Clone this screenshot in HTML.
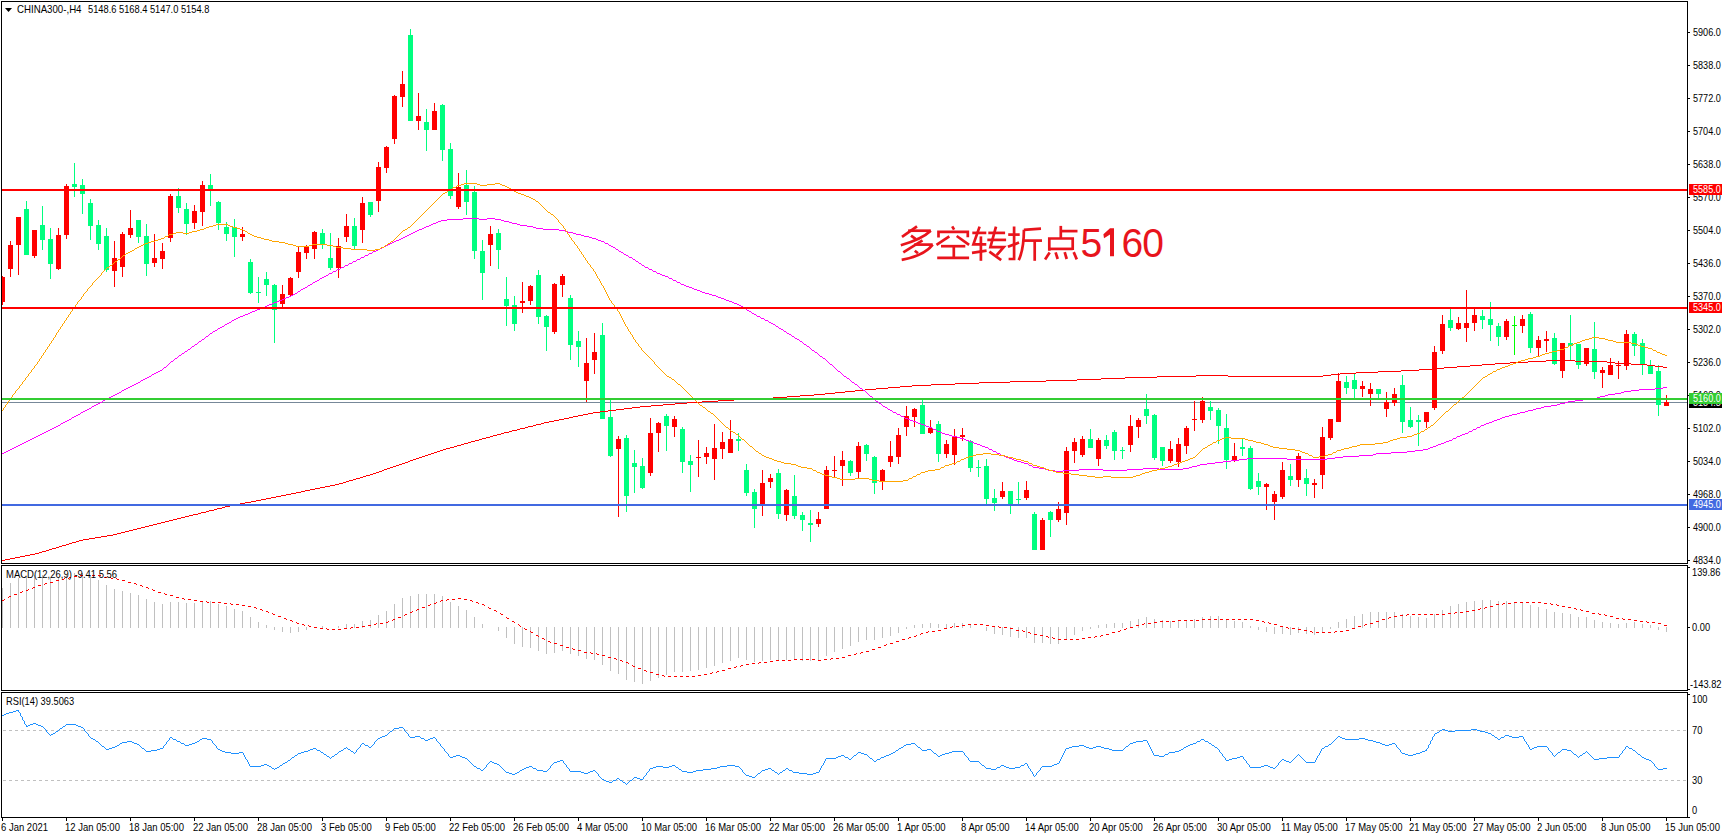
<!DOCTYPE html><html><head><meta charset="utf-8"><style>html,body{margin:0;padding:0;background:#fff;width:1722px;height:837px;overflow:hidden}svg{display:block}text{font-family:"Liberation Sans",sans-serif}</style></head><body>
<svg width="1722" height="837" viewBox="0 0 1722 837">
<rect x="0" y="0" width="1722" height="837" fill="#fff"/>
<g shape-rendering="crispEdges">
<rect x="1" y="1" width="1687" height="1" fill="#000"/>
<rect x="1" y="563" width="1687" height="1" fill="#000"/>
<rect x="1" y="1" width="1" height="563" fill="#000"/>
<rect x="1687" y="1" width="1" height="563" fill="#000"/>
<rect x="1" y="565" width="1687" height="1" fill="#000"/>
<rect x="1" y="690" width="1687" height="1" fill="#000"/>
<rect x="1" y="565" width="1" height="126" fill="#000"/>
<rect x="1687" y="565" width="1" height="126" fill="#000"/>
<rect x="1" y="692" width="1687" height="1" fill="#000"/>
<rect x="1" y="817" width="1687" height="1" fill="#000"/>
<rect x="1" y="692" width="1" height="126" fill="#000"/>
<rect x="1687" y="692" width="1" height="126" fill="#000"/>
<rect x="1688" y="32" width="2" height="1" fill="#000"/>
<rect x="1688" y="65" width="2" height="1" fill="#000"/>
<rect x="1688" y="98" width="2" height="1" fill="#000"/>
<rect x="1688" y="131" width="2" height="1" fill="#000"/>
<rect x="1688" y="164" width="2" height="1" fill="#000"/>
<rect x="1688" y="197" width="2" height="1" fill="#000"/>
<rect x="1688" y="230" width="2" height="1" fill="#000"/>
<rect x="1688" y="263" width="2" height="1" fill="#000"/>
<rect x="1688" y="296" width="2" height="1" fill="#000"/>
<rect x="1688" y="329" width="2" height="1" fill="#000"/>
<rect x="1688" y="362" width="2" height="1" fill="#000"/>
<rect x="1688" y="395" width="2" height="1" fill="#000"/>
<rect x="1688" y="428" width="2" height="1" fill="#000"/>
<rect x="1688" y="461" width="2" height="1" fill="#000"/>
<rect x="1688" y="494" width="2" height="1" fill="#000"/>
<rect x="1688" y="527" width="2" height="1" fill="#000"/>
<rect x="1688" y="560" width="2" height="1" fill="#000"/>
<rect x="1688" y="567" width="2" height="1" fill="#000"/>
<rect x="1688" y="627" width="2" height="1" fill="#000"/>
<rect x="1688" y="689" width="2" height="1" fill="#000"/>
<rect x="1688" y="694" width="2" height="1" fill="#000"/>
<rect x="1688" y="817" width="2" height="1" fill="#000"/>
<rect x="2" y="818" width="1" height="3" fill="#000"/>
<rect x="66" y="818" width="1" height="3" fill="#000"/>
<rect x="130" y="818" width="1" height="3" fill="#000"/>
<rect x="194" y="818" width="1" height="3" fill="#000"/>
<rect x="258" y="818" width="1" height="3" fill="#000"/>
<rect x="322" y="818" width="1" height="3" fill="#000"/>
<rect x="386" y="818" width="1" height="3" fill="#000"/>
<rect x="450" y="818" width="1" height="3" fill="#000"/>
<rect x="514" y="818" width="1" height="3" fill="#000"/>
<rect x="578" y="818" width="1" height="3" fill="#000"/>
<rect x="642" y="818" width="1" height="3" fill="#000"/>
<rect x="706" y="818" width="1" height="3" fill="#000"/>
<rect x="770" y="818" width="1" height="3" fill="#000"/>
<rect x="834" y="818" width="1" height="3" fill="#000"/>
<rect x="898" y="818" width="1" height="3" fill="#000"/>
<rect x="962" y="818" width="1" height="3" fill="#000"/>
<rect x="1026" y="818" width="1" height="3" fill="#000"/>
<rect x="1090" y="818" width="1" height="3" fill="#000"/>
<rect x="1154" y="818" width="1" height="3" fill="#000"/>
<rect x="1218" y="818" width="1" height="3" fill="#000"/>
<rect x="1282" y="818" width="1" height="3" fill="#000"/>
<rect x="1346" y="818" width="1" height="3" fill="#000"/>
<rect x="1410" y="818" width="1" height="3" fill="#000"/>
<rect x="1474" y="818" width="1" height="3" fill="#000"/>
<rect x="1538" y="818" width="1" height="3" fill="#000"/>
<rect x="1602" y="818" width="1" height="3" fill="#000"/>
<rect x="1666" y="818" width="1" height="3" fill="#000"/>
</g>
<g shape-rendering="crispEdges">
<rect x="2" y="402" width="1685" height="1" fill="#778899"/>
<rect x="2" y="276" width="1" height="29" fill="#ff0000"/>
<rect x="2" y="277" width="3" height="25" fill="#ff0000"/>
<rect x="10" y="241" width="1" height="36" fill="#ff0000"/>
<rect x="8" y="245" width="5" height="24" fill="#ff0000"/>
<rect x="18" y="217" width="1" height="58" fill="#ff0000"/>
<rect x="16" y="217" width="5" height="28" fill="#ff0000"/>
<rect x="26" y="201" width="1" height="54" fill="#00ff7f"/>
<rect x="24" y="209" width="5" height="46" fill="#00ff7f"/>
<rect x="34" y="230" width="1" height="28" fill="#ff0000"/>
<rect x="32" y="230" width="5" height="26" fill="#ff0000"/>
<rect x="42" y="206" width="1" height="44" fill="#00ff7f"/>
<rect x="40" y="225" width="5" height="15" fill="#00ff7f"/>
<rect x="50" y="228" width="1" height="51" fill="#00ff7f"/>
<rect x="48" y="239" width="5" height="25" fill="#00ff7f"/>
<rect x="58" y="228" width="1" height="42" fill="#ff0000"/>
<rect x="56" y="235" width="5" height="34" fill="#ff0000"/>
<rect x="66" y="184" width="1" height="55" fill="#ff0000"/>
<rect x="64" y="186" width="5" height="49" fill="#ff0000"/>
<rect x="74" y="163" width="1" height="34" fill="#00ff7f"/>
<rect x="72" y="184" width="5" height="3" fill="#00ff7f"/>
<rect x="82" y="179" width="1" height="35" fill="#00ff7f"/>
<rect x="80" y="185" width="5" height="9" fill="#00ff7f"/>
<rect x="90" y="199" width="1" height="41" fill="#00ff7f"/>
<rect x="88" y="203" width="5" height="23" fill="#00ff7f"/>
<rect x="98" y="220" width="1" height="30" fill="#00ff7f"/>
<rect x="96" y="225" width="5" height="19" fill="#00ff7f"/>
<rect x="106" y="228" width="1" height="44" fill="#00ff7f"/>
<rect x="104" y="236" width="5" height="34" fill="#00ff7f"/>
<rect x="114" y="241" width="1" height="46" fill="#ff0000"/>
<rect x="112" y="258" width="5" height="13" fill="#ff0000"/>
<rect x="122" y="232" width="1" height="45" fill="#ff0000"/>
<rect x="120" y="234" width="5" height="33" fill="#ff0000"/>
<rect x="130" y="210" width="1" height="28" fill="#ff0000"/>
<rect x="128" y="228" width="5" height="7" fill="#ff0000"/>
<rect x="138" y="220" width="1" height="23" fill="#00ff7f"/>
<rect x="136" y="220" width="5" height="17" fill="#00ff7f"/>
<rect x="146" y="224" width="1" height="52" fill="#00ff7f"/>
<rect x="144" y="236" width="5" height="28" fill="#00ff7f"/>
<rect x="154" y="234" width="1" height="33" fill="#ff0000"/>
<rect x="152" y="258" width="5" height="5" fill="#ff0000"/>
<rect x="162" y="243" width="1" height="26" fill="#ff0000"/>
<rect x="160" y="251" width="5" height="8" fill="#ff0000"/>
<rect x="170" y="194" width="1" height="48" fill="#ff0000"/>
<rect x="168" y="196" width="5" height="42" fill="#ff0000"/>
<rect x="178" y="188" width="1" height="25" fill="#00ff7f"/>
<rect x="176" y="196" width="5" height="12" fill="#00ff7f"/>
<rect x="186" y="203" width="1" height="32" fill="#00ff7f"/>
<rect x="184" y="209" width="5" height="15" fill="#00ff7f"/>
<rect x="194" y="205" width="1" height="24" fill="#ff0000"/>
<rect x="192" y="211" width="5" height="12" fill="#ff0000"/>
<rect x="202" y="181" width="1" height="45" fill="#ff0000"/>
<rect x="200" y="185" width="5" height="27" fill="#ff0000"/>
<rect x="210" y="174" width="1" height="32" fill="#00ff7f"/>
<rect x="208" y="185" width="5" height="4" fill="#00ff7f"/>
<rect x="218" y="201" width="1" height="29" fill="#00ff7f"/>
<rect x="216" y="202" width="5" height="21" fill="#00ff7f"/>
<rect x="226" y="222" width="1" height="19" fill="#00ff7f"/>
<rect x="224" y="227" width="5" height="7" fill="#00ff7f"/>
<rect x="234" y="219" width="1" height="38" fill="#00ff7f"/>
<rect x="232" y="227" width="5" height="10" fill="#00ff7f"/>
<rect x="242" y="227" width="1" height="14" fill="#ff0000"/>
<rect x="240" y="234" width="5" height="3" fill="#ff0000"/>
<rect x="250" y="259" width="1" height="35" fill="#00ff7f"/>
<rect x="248" y="262" width="5" height="31" fill="#00ff7f"/>
<rect x="258" y="277" width="1" height="26" fill="#00ff7f"/>
<rect x="256" y="292" width="5" height="1" fill="#00ff7f"/>
<rect x="266" y="272" width="1" height="24" fill="#00ff7f"/>
<rect x="264" y="279" width="5" height="6" fill="#00ff7f"/>
<rect x="274" y="284" width="1" height="59" fill="#00ff7f"/>
<rect x="272" y="285" width="5" height="25" fill="#00ff7f"/>
<rect x="282" y="285" width="1" height="22" fill="#ff0000"/>
<rect x="280" y="294" width="5" height="10" fill="#ff0000"/>
<rect x="290" y="277" width="1" height="19" fill="#ff0000"/>
<rect x="288" y="278" width="5" height="17" fill="#ff0000"/>
<rect x="298" y="247" width="1" height="31" fill="#ff0000"/>
<rect x="296" y="252" width="5" height="20" fill="#ff0000"/>
<rect x="306" y="245" width="1" height="14" fill="#ff0000"/>
<rect x="304" y="246" width="5" height="7" fill="#ff0000"/>
<rect x="314" y="231" width="1" height="28" fill="#ff0000"/>
<rect x="312" y="232" width="5" height="17" fill="#ff0000"/>
<rect x="322" y="229" width="1" height="20" fill="#00ff7f"/>
<rect x="320" y="233" width="5" height="12" fill="#00ff7f"/>
<rect x="330" y="233" width="1" height="37" fill="#00ff7f"/>
<rect x="328" y="258" width="5" height="10" fill="#00ff7f"/>
<rect x="338" y="238" width="1" height="40" fill="#ff0000"/>
<rect x="336" y="246" width="5" height="22" fill="#ff0000"/>
<rect x="346" y="214" width="1" height="28" fill="#ff0000"/>
<rect x="344" y="226" width="5" height="11" fill="#ff0000"/>
<rect x="354" y="218" width="1" height="31" fill="#00ff7f"/>
<rect x="352" y="226" width="5" height="20" fill="#00ff7f"/>
<rect x="362" y="197" width="1" height="46" fill="#ff0000"/>
<rect x="360" y="203" width="5" height="27" fill="#ff0000"/>
<rect x="370" y="202" width="1" height="15" fill="#00ff7f"/>
<rect x="368" y="202" width="5" height="13" fill="#00ff7f"/>
<rect x="378" y="162" width="1" height="50" fill="#ff0000"/>
<rect x="376" y="167" width="5" height="34" fill="#ff0000"/>
<rect x="386" y="146" width="1" height="27" fill="#ff0000"/>
<rect x="384" y="147" width="5" height="21" fill="#ff0000"/>
<rect x="394" y="95" width="1" height="49" fill="#ff0000"/>
<rect x="392" y="96" width="5" height="43" fill="#ff0000"/>
<rect x="402" y="71" width="1" height="36" fill="#ff0000"/>
<rect x="400" y="84" width="5" height="13" fill="#ff0000"/>
<rect x="410" y="29" width="1" height="92" fill="#00ff7f"/>
<rect x="408" y="35" width="5" height="86" fill="#00ff7f"/>
<rect x="418" y="93" width="1" height="37" fill="#ff0000"/>
<rect x="416" y="116" width="5" height="5" fill="#ff0000"/>
<rect x="426" y="109" width="1" height="42" fill="#00ff7f"/>
<rect x="424" y="122" width="5" height="8" fill="#00ff7f"/>
<rect x="434" y="103" width="1" height="27" fill="#ff0000"/>
<rect x="432" y="111" width="5" height="19" fill="#ff0000"/>
<rect x="442" y="104" width="1" height="57" fill="#00ff7f"/>
<rect x="440" y="105" width="5" height="45" fill="#00ff7f"/>
<rect x="450" y="143" width="1" height="56" fill="#00ff7f"/>
<rect x="448" y="149" width="5" height="47" fill="#00ff7f"/>
<rect x="458" y="173" width="1" height="36" fill="#ff0000"/>
<rect x="456" y="187" width="5" height="20" fill="#ff0000"/>
<rect x="466" y="170" width="1" height="45" fill="#00ff7f"/>
<rect x="464" y="185" width="5" height="17" fill="#00ff7f"/>
<rect x="474" y="186" width="1" height="73" fill="#00ff7f"/>
<rect x="472" y="192" width="5" height="59" fill="#00ff7f"/>
<rect x="482" y="240" width="1" height="60" fill="#00ff7f"/>
<rect x="480" y="251" width="5" height="22" fill="#00ff7f"/>
<rect x="490" y="226" width="1" height="40" fill="#ff0000"/>
<rect x="488" y="234" width="5" height="11" fill="#ff0000"/>
<rect x="498" y="229" width="1" height="40" fill="#00ff7f"/>
<rect x="496" y="233" width="5" height="17" fill="#00ff7f"/>
<rect x="506" y="277" width="1" height="49" fill="#00ff7f"/>
<rect x="504" y="299" width="5" height="7" fill="#00ff7f"/>
<rect x="514" y="296" width="1" height="35" fill="#00ff7f"/>
<rect x="512" y="305" width="5" height="19" fill="#00ff7f"/>
<rect x="522" y="282" width="1" height="31" fill="#ff0000"/>
<rect x="520" y="301" width="5" height="2" fill="#ff0000"/>
<rect x="530" y="285" width="1" height="20" fill="#ff0000"/>
<rect x="528" y="286" width="5" height="15" fill="#ff0000"/>
<rect x="538" y="270" width="1" height="54" fill="#00ff7f"/>
<rect x="536" y="275" width="5" height="42" fill="#00ff7f"/>
<rect x="546" y="315" width="1" height="36" fill="#00ff7f"/>
<rect x="544" y="316" width="5" height="11" fill="#00ff7f"/>
<rect x="554" y="283" width="1" height="51" fill="#ff0000"/>
<rect x="552" y="284" width="5" height="48" fill="#ff0000"/>
<rect x="562" y="274" width="1" height="23" fill="#ff0000"/>
<rect x="560" y="276" width="5" height="9" fill="#ff0000"/>
<rect x="570" y="295" width="1" height="65" fill="#00ff7f"/>
<rect x="568" y="298" width="5" height="47" fill="#00ff7f"/>
<rect x="578" y="331" width="1" height="36" fill="#00ff7f"/>
<rect x="576" y="341" width="5" height="6" fill="#00ff7f"/>
<rect x="586" y="338" width="1" height="64" fill="#ff0000"/>
<rect x="584" y="363" width="5" height="18" fill="#ff0000"/>
<rect x="594" y="333" width="1" height="41" fill="#ff0000"/>
<rect x="592" y="352" width="5" height="8" fill="#ff0000"/>
<rect x="602" y="323" width="1" height="96" fill="#00ff7f"/>
<rect x="600" y="335" width="5" height="84" fill="#00ff7f"/>
<rect x="610" y="399" width="1" height="58" fill="#00ff7f"/>
<rect x="608" y="417" width="5" height="39" fill="#00ff7f"/>
<rect x="618" y="436" width="1" height="81" fill="#ff0000"/>
<rect x="616" y="439" width="5" height="10" fill="#ff0000"/>
<rect x="626" y="435" width="1" height="77" fill="#00ff7f"/>
<rect x="624" y="438" width="5" height="58" fill="#00ff7f"/>
<rect x="634" y="450" width="1" height="43" fill="#00ff7f"/>
<rect x="632" y="463" width="5" height="4" fill="#00ff7f"/>
<rect x="642" y="458" width="1" height="31" fill="#00ff7f"/>
<rect x="640" y="466" width="5" height="22" fill="#00ff7f"/>
<rect x="650" y="418" width="1" height="58" fill="#ff0000"/>
<rect x="648" y="433" width="5" height="40" fill="#ff0000"/>
<rect x="658" y="422" width="1" height="30" fill="#ff0000"/>
<rect x="656" y="423" width="5" height="10" fill="#ff0000"/>
<rect x="666" y="414" width="1" height="37" fill="#00ff7f"/>
<rect x="664" y="416" width="5" height="10" fill="#00ff7f"/>
<rect x="674" y="416" width="1" height="21" fill="#ff0000"/>
<rect x="672" y="419" width="5" height="8" fill="#ff0000"/>
<rect x="682" y="427" width="1" height="46" fill="#00ff7f"/>
<rect x="680" y="429" width="5" height="33" fill="#00ff7f"/>
<rect x="690" y="455" width="1" height="37" fill="#00ff7f"/>
<rect x="688" y="461" width="5" height="4" fill="#00ff7f"/>
<rect x="698" y="440" width="1" height="37" fill="#ff0000"/>
<rect x="696" y="457" width="5" height="1" fill="#ff0000"/>
<rect x="706" y="447" width="1" height="17" fill="#ff0000"/>
<rect x="704" y="453" width="5" height="4" fill="#ff0000"/>
<rect x="714" y="424" width="1" height="56" fill="#ff0000"/>
<rect x="712" y="448" width="5" height="11" fill="#ff0000"/>
<rect x="722" y="432" width="1" height="27" fill="#ff0000"/>
<rect x="720" y="442" width="5" height="7" fill="#ff0000"/>
<rect x="730" y="420" width="1" height="33" fill="#ff0000"/>
<rect x="728" y="439" width="5" height="14" fill="#ff0000"/>
<rect x="738" y="433" width="1" height="18" fill="#00ff7f"/>
<rect x="736" y="439" width="5" height="2" fill="#00ff7f"/>
<rect x="746" y="464" width="1" height="32" fill="#00ff7f"/>
<rect x="744" y="470" width="5" height="23" fill="#00ff7f"/>
<rect x="754" y="489" width="1" height="39" fill="#00ff7f"/>
<rect x="752" y="492" width="5" height="17" fill="#00ff7f"/>
<rect x="762" y="470" width="1" height="46" fill="#ff0000"/>
<rect x="760" y="483" width="5" height="21" fill="#ff0000"/>
<rect x="770" y="474" width="1" height="14" fill="#ff0000"/>
<rect x="768" y="478" width="5" height="4" fill="#ff0000"/>
<rect x="778" y="469" width="1" height="50" fill="#00ff7f"/>
<rect x="776" y="473" width="5" height="41" fill="#00ff7f"/>
<rect x="786" y="489" width="1" height="32" fill="#ff0000"/>
<rect x="784" y="490" width="5" height="25" fill="#ff0000"/>
<rect x="794" y="475" width="1" height="44" fill="#00ff7f"/>
<rect x="792" y="496" width="5" height="20" fill="#00ff7f"/>
<rect x="802" y="512" width="1" height="19" fill="#00ff7f"/>
<rect x="800" y="515" width="5" height="5" fill="#00ff7f"/>
<rect x="810" y="510" width="1" height="32" fill="#00ff7f"/>
<rect x="808" y="523" width="5" height="2" fill="#00ff7f"/>
<rect x="818" y="512" width="1" height="15" fill="#ff0000"/>
<rect x="816" y="519" width="5" height="5" fill="#ff0000"/>
<rect x="826" y="466" width="1" height="43" fill="#ff0000"/>
<rect x="824" y="470" width="5" height="39" fill="#ff0000"/>
<rect x="834" y="456" width="1" height="22" fill="#ff0000"/>
<rect x="832" y="470" width="5" height="1" fill="#ff0000"/>
<rect x="842" y="451" width="1" height="35" fill="#ff0000"/>
<rect x="840" y="460" width="5" height="6" fill="#ff0000"/>
<rect x="850" y="460" width="1" height="16" fill="#00ff7f"/>
<rect x="848" y="461" width="5" height="12" fill="#00ff7f"/>
<rect x="858" y="442" width="1" height="36" fill="#ff0000"/>
<rect x="856" y="446" width="5" height="26" fill="#ff0000"/>
<rect x="866" y="444" width="1" height="17" fill="#00ff7f"/>
<rect x="864" y="445" width="5" height="9" fill="#00ff7f"/>
<rect x="874" y="456" width="1" height="38" fill="#00ff7f"/>
<rect x="872" y="457" width="5" height="26" fill="#00ff7f"/>
<rect x="882" y="469" width="1" height="21" fill="#ff0000"/>
<rect x="880" y="470" width="5" height="11" fill="#ff0000"/>
<rect x="890" y="441" width="1" height="26" fill="#ff0000"/>
<rect x="888" y="456" width="5" height="6" fill="#ff0000"/>
<rect x="898" y="428" width="1" height="36" fill="#ff0000"/>
<rect x="896" y="435" width="5" height="22" fill="#ff0000"/>
<rect x="906" y="406" width="1" height="30" fill="#ff0000"/>
<rect x="904" y="416" width="5" height="11" fill="#ff0000"/>
<rect x="914" y="408" width="1" height="19" fill="#ff0000"/>
<rect x="912" y="409" width="5" height="8" fill="#ff0000"/>
<rect x="922" y="400" width="1" height="34" fill="#00ff7f"/>
<rect x="920" y="405" width="5" height="29" fill="#00ff7f"/>
<rect x="930" y="420" width="1" height="14" fill="#ff0000"/>
<rect x="928" y="428" width="5" height="5" fill="#ff0000"/>
<rect x="938" y="421" width="1" height="41" fill="#00ff7f"/>
<rect x="936" y="424" width="5" height="30" fill="#00ff7f"/>
<rect x="946" y="440" width="1" height="18" fill="#ff0000"/>
<rect x="944" y="444" width="5" height="10" fill="#ff0000"/>
<rect x="954" y="429" width="1" height="36" fill="#ff0000"/>
<rect x="952" y="436" width="5" height="19" fill="#ff0000"/>
<rect x="962" y="428" width="1" height="13" fill="#ff0000"/>
<rect x="960" y="435" width="5" height="2" fill="#ff0000"/>
<rect x="970" y="440" width="1" height="32" fill="#00ff7f"/>
<rect x="968" y="441" width="5" height="27" fill="#00ff7f"/>
<rect x="978" y="460" width="1" height="17" fill="#00ff7f"/>
<rect x="976" y="467" width="5" height="1" fill="#00ff7f"/>
<rect x="986" y="459" width="1" height="45" fill="#00ff7f"/>
<rect x="984" y="466" width="5" height="33" fill="#00ff7f"/>
<rect x="994" y="489" width="1" height="22" fill="#00ff7f"/>
<rect x="992" y="498" width="5" height="5" fill="#00ff7f"/>
<rect x="1002" y="482" width="1" height="17" fill="#ff0000"/>
<rect x="1000" y="491" width="5" height="6" fill="#ff0000"/>
<rect x="1010" y="491" width="1" height="23" fill="#00ff7f"/>
<rect x="1008" y="491" width="5" height="13" fill="#00ff7f"/>
<rect x="1018" y="482" width="1" height="22" fill="#00ff7f"/>
<rect x="1016" y="499" width="5" height="1" fill="#00ff7f"/>
<rect x="1026" y="481" width="1" height="19" fill="#ff0000"/>
<rect x="1024" y="490" width="5" height="8" fill="#ff0000"/>
<rect x="1034" y="512" width="1" height="38" fill="#00ff7f"/>
<rect x="1032" y="514" width="5" height="36" fill="#00ff7f"/>
<rect x="1042" y="518" width="1" height="32" fill="#ff0000"/>
<rect x="1040" y="520" width="5" height="30" fill="#ff0000"/>
<rect x="1050" y="511" width="1" height="26" fill="#00ff7f"/>
<rect x="1048" y="512" width="5" height="8" fill="#00ff7f"/>
<rect x="1058" y="502" width="1" height="20" fill="#ff0000"/>
<rect x="1056" y="509" width="5" height="11" fill="#ff0000"/>
<rect x="1066" y="447" width="1" height="78" fill="#ff0000"/>
<rect x="1064" y="451" width="5" height="62" fill="#ff0000"/>
<rect x="1074" y="438" width="1" height="25" fill="#ff0000"/>
<rect x="1072" y="442" width="5" height="9" fill="#ff0000"/>
<rect x="1082" y="436" width="1" height="21" fill="#ff0000"/>
<rect x="1080" y="439" width="5" height="16" fill="#ff0000"/>
<rect x="1090" y="429" width="1" height="19" fill="#00ff7f"/>
<rect x="1088" y="439" width="5" height="9" fill="#00ff7f"/>
<rect x="1098" y="438" width="1" height="28" fill="#ff0000"/>
<rect x="1096" y="440" width="5" height="19" fill="#ff0000"/>
<rect x="1106" y="435" width="1" height="14" fill="#00ff7f"/>
<rect x="1104" y="440" width="5" height="6" fill="#00ff7f"/>
<rect x="1114" y="430" width="1" height="30" fill="#00ff7f"/>
<rect x="1112" y="432" width="5" height="19" fill="#00ff7f"/>
<rect x="1122" y="447" width="1" height="12" fill="#00ff7f"/>
<rect x="1120" y="450" width="5" height="1" fill="#00ff7f"/>
<rect x="1130" y="415" width="1" height="37" fill="#ff0000"/>
<rect x="1128" y="426" width="5" height="19" fill="#ff0000"/>
<rect x="1138" y="418" width="1" height="20" fill="#ff0000"/>
<rect x="1136" y="420" width="5" height="7" fill="#ff0000"/>
<rect x="1146" y="394" width="1" height="30" fill="#00ff7f"/>
<rect x="1144" y="409" width="5" height="7" fill="#00ff7f"/>
<rect x="1154" y="414" width="1" height="46" fill="#00ff7f"/>
<rect x="1152" y="415" width="5" height="43" fill="#00ff7f"/>
<rect x="1162" y="447" width="1" height="19" fill="#00ff7f"/>
<rect x="1160" y="447" width="5" height="14" fill="#00ff7f"/>
<rect x="1170" y="441" width="1" height="22" fill="#ff0000"/>
<rect x="1168" y="449" width="5" height="12" fill="#ff0000"/>
<rect x="1178" y="438" width="1" height="29" fill="#ff0000"/>
<rect x="1176" y="444" width="5" height="18" fill="#ff0000"/>
<rect x="1186" y="426" width="1" height="28" fill="#ff0000"/>
<rect x="1184" y="428" width="5" height="18" fill="#ff0000"/>
<rect x="1194" y="401" width="1" height="30" fill="#ff0000"/>
<rect x="1192" y="419" width="5" height="1" fill="#ff0000"/>
<rect x="1202" y="397" width="1" height="26" fill="#ff0000"/>
<rect x="1200" y="401" width="5" height="19" fill="#ff0000"/>
<rect x="1210" y="401" width="1" height="19" fill="#00ff7f"/>
<rect x="1208" y="407" width="5" height="4" fill="#00ff7f"/>
<rect x="1218" y="408" width="1" height="36" fill="#00ff7f"/>
<rect x="1216" y="410" width="5" height="16" fill="#00ff7f"/>
<rect x="1226" y="414" width="1" height="55" fill="#00ff7f"/>
<rect x="1224" y="428" width="5" height="32" fill="#00ff7f"/>
<rect x="1234" y="443" width="1" height="19" fill="#ff0000"/>
<rect x="1232" y="456" width="5" height="4" fill="#ff0000"/>
<rect x="1242" y="438" width="1" height="18" fill="#00ff7f"/>
<rect x="1240" y="447" width="5" height="2" fill="#00ff7f"/>
<rect x="1250" y="446" width="1" height="44" fill="#00ff7f"/>
<rect x="1248" y="448" width="5" height="41" fill="#00ff7f"/>
<rect x="1258" y="473" width="1" height="22" fill="#00ff7f"/>
<rect x="1256" y="481" width="5" height="6" fill="#00ff7f"/>
<rect x="1266" y="483" width="1" height="27" fill="#ff0000"/>
<rect x="1264" y="484" width="5" height="3" fill="#ff0000"/>
<rect x="1274" y="491" width="1" height="29" fill="#ff0000"/>
<rect x="1272" y="494" width="5" height="8" fill="#ff0000"/>
<rect x="1282" y="462" width="1" height="37" fill="#ff0000"/>
<rect x="1280" y="470" width="5" height="27" fill="#ff0000"/>
<rect x="1290" y="464" width="1" height="22" fill="#00ff7f"/>
<rect x="1288" y="476" width="5" height="4" fill="#00ff7f"/>
<rect x="1298" y="453" width="1" height="34" fill="#ff0000"/>
<rect x="1296" y="456" width="5" height="24" fill="#ff0000"/>
<rect x="1306" y="469" width="1" height="27" fill="#00ff7f"/>
<rect x="1304" y="478" width="5" height="6" fill="#00ff7f"/>
<rect x="1314" y="479" width="1" height="19" fill="#ff0000"/>
<rect x="1312" y="483" width="5" height="2" fill="#ff0000"/>
<rect x="1322" y="427" width="1" height="62" fill="#ff0000"/>
<rect x="1320" y="437" width="5" height="38" fill="#ff0000"/>
<rect x="1330" y="419" width="1" height="21" fill="#ff0000"/>
<rect x="1328" y="419" width="5" height="19" fill="#ff0000"/>
<rect x="1338" y="373" width="1" height="49" fill="#ff0000"/>
<rect x="1336" y="381" width="5" height="41" fill="#ff0000"/>
<rect x="1346" y="376" width="1" height="18" fill="#00ff7f"/>
<rect x="1344" y="382" width="5" height="6" fill="#00ff7f"/>
<rect x="1354" y="374" width="1" height="24" fill="#00ff7f"/>
<rect x="1352" y="380" width="5" height="9" fill="#00ff7f"/>
<rect x="1362" y="381" width="1" height="16" fill="#ff0000"/>
<rect x="1360" y="386" width="5" height="3" fill="#ff0000"/>
<rect x="1370" y="383" width="1" height="23" fill="#ff0000"/>
<rect x="1368" y="389" width="5" height="5" fill="#ff0000"/>
<rect x="1378" y="389" width="1" height="9" fill="#00ff7f"/>
<rect x="1376" y="389" width="5" height="5" fill="#00ff7f"/>
<rect x="1386" y="392" width="1" height="25" fill="#ff0000"/>
<rect x="1384" y="402" width="5" height="7" fill="#ff0000"/>
<rect x="1394" y="388" width="1" height="18" fill="#ff0000"/>
<rect x="1392" y="394" width="5" height="9" fill="#ff0000"/>
<rect x="1402" y="375" width="1" height="58" fill="#00ff7f"/>
<rect x="1400" y="385" width="5" height="37" fill="#00ff7f"/>
<rect x="1410" y="407" width="1" height="21" fill="#00ff7f"/>
<rect x="1408" y="420" width="5" height="7" fill="#00ff7f"/>
<rect x="1418" y="415" width="1" height="31" fill="#00ff7f"/>
<rect x="1416" y="420" width="5" height="2" fill="#00ff7f"/>
<rect x="1426" y="412" width="1" height="16" fill="#ff0000"/>
<rect x="1424" y="412" width="5" height="10" fill="#ff0000"/>
<rect x="1434" y="346" width="1" height="64" fill="#ff0000"/>
<rect x="1432" y="352" width="5" height="56" fill="#ff0000"/>
<rect x="1442" y="315" width="1" height="39" fill="#ff0000"/>
<rect x="1440" y="324" width="5" height="27" fill="#ff0000"/>
<rect x="1450" y="309" width="1" height="22" fill="#00ff7f"/>
<rect x="1448" y="320" width="5" height="8" fill="#00ff7f"/>
<rect x="1458" y="317" width="1" height="13" fill="#ff0000"/>
<rect x="1456" y="323" width="5" height="6" fill="#ff0000"/>
<rect x="1466" y="290" width="1" height="52" fill="#ff0000"/>
<rect x="1464" y="323" width="5" height="5" fill="#ff0000"/>
<rect x="1474" y="308" width="1" height="23" fill="#ff0000"/>
<rect x="1472" y="315" width="5" height="8" fill="#ff0000"/>
<rect x="1482" y="310" width="1" height="19" fill="#00ff7f"/>
<rect x="1480" y="316" width="5" height="4" fill="#00ff7f"/>
<rect x="1490" y="302" width="1" height="39" fill="#00ff7f"/>
<rect x="1488" y="319" width="5" height="6" fill="#00ff7f"/>
<rect x="1498" y="323" width="1" height="23" fill="#00ff7f"/>
<rect x="1496" y="326" width="5" height="11" fill="#00ff7f"/>
<rect x="1506" y="319" width="1" height="21" fill="#ff0000"/>
<rect x="1504" y="321" width="5" height="16" fill="#ff0000"/>
<rect x="1514" y="316" width="1" height="39" fill="#00ff00"/>
<rect x="1512" y="325" width="5" height="1" fill="#00ff00"/>
<rect x="1522" y="315" width="1" height="18" fill="#ff0000"/>
<rect x="1520" y="319" width="5" height="7" fill="#ff0000"/>
<rect x="1530" y="312" width="1" height="41" fill="#00ff7f"/>
<rect x="1528" y="314" width="5" height="34" fill="#00ff7f"/>
<rect x="1538" y="336" width="1" height="20" fill="#ff0000"/>
<rect x="1536" y="340" width="5" height="8" fill="#ff0000"/>
<rect x="1546" y="331" width="1" height="21" fill="#ff0000"/>
<rect x="1544" y="339" width="5" height="2" fill="#ff0000"/>
<rect x="1554" y="333" width="1" height="32" fill="#00ff7f"/>
<rect x="1552" y="338" width="5" height="26" fill="#00ff7f"/>
<rect x="1562" y="343" width="1" height="35" fill="#ff0000"/>
<rect x="1560" y="343" width="5" height="28" fill="#ff0000"/>
<rect x="1570" y="315" width="1" height="45" fill="#00ff7f"/>
<rect x="1568" y="343" width="5" height="3" fill="#00ff7f"/>
<rect x="1578" y="344" width="1" height="25" fill="#00ff7f"/>
<rect x="1576" y="344" width="5" height="21" fill="#00ff7f"/>
<rect x="1586" y="348" width="1" height="18" fill="#ff0000"/>
<rect x="1584" y="348" width="5" height="16" fill="#ff0000"/>
<rect x="1594" y="322" width="1" height="57" fill="#00ff7f"/>
<rect x="1592" y="349" width="5" height="23" fill="#00ff7f"/>
<rect x="1602" y="367" width="1" height="21" fill="#ff0000"/>
<rect x="1600" y="370" width="5" height="3" fill="#ff0000"/>
<rect x="1610" y="358" width="1" height="17" fill="#ff0000"/>
<rect x="1608" y="365" width="5" height="10" fill="#ff0000"/>
<rect x="1618" y="361" width="1" height="18" fill="#ff0000"/>
<rect x="1616" y="365" width="5" height="1" fill="#ff0000"/>
<rect x="1626" y="330" width="1" height="40" fill="#ff0000"/>
<rect x="1624" y="334" width="5" height="32" fill="#ff0000"/>
<rect x="1634" y="332" width="1" height="24" fill="#00ff7f"/>
<rect x="1632" y="334" width="5" height="12" fill="#00ff7f"/>
<rect x="1642" y="339" width="1" height="36" fill="#00ff7f"/>
<rect x="1640" y="343" width="5" height="21" fill="#00ff7f"/>
<rect x="1650" y="360" width="1" height="14" fill="#00ff7f"/>
<rect x="1648" y="365" width="5" height="9" fill="#00ff7f"/>
<rect x="1658" y="365" width="1" height="51" fill="#00ff7f"/>
<rect x="1656" y="371" width="5" height="34" fill="#00ff7f"/>
<rect x="1666" y="395" width="1" height="11" fill="#ff0000"/>
<rect x="1664" y="402" width="5" height="4" fill="#ff0000"/>
</g>
<g shape-rendering="crispEdges">
<path d="M2,560h3v1h-3zM5,559h5v1h-5zM10,558h5v1h-5zM15,557h5v1h-5zM20,556h5v1h-5zM25,555h5v1h-5zM30,554h5v1h-5zM35,553h4v1h-4zM39,552h3v1h-3zM42,551h4v1h-4zM46,550h3v1h-3zM49,549h3v1h-3zM52,548h4v1h-4zM56,547h3v1h-3zM59,546h3v1h-3zM62,545h4v1h-4zM66,544h3v1h-3zM69,543h3v1h-3zM72,542h4v1h-4zM76,541h3v1h-3zM79,540h4v1h-4zM83,539h6v1h-6zM89,538h6v1h-6zM95,537h6v1h-6zM101,536h6v1h-6zM107,535h6v1h-6zM113,534h4v1h-4zM117,533h4v1h-4zM121,532h4v1h-4zM125,531h4v1h-4zM129,530h4v1h-4zM133,529h4v1h-4zM137,528h4v1h-4zM141,527h4v1h-4zM145,526h4v1h-4zM149,525h4v1h-4zM153,524h4v1h-4zM157,523h4v1h-4zM161,522h4v1h-4zM165,521h4v1h-4zM169,520h4v1h-4zM173,519h4v1h-4zM177,518h4v1h-4zM181,517h4v1h-4zM185,516h4v1h-4zM189,515h4v1h-4zM193,514h5v1h-5zM198,513h3v1h-3zM201,512h5v1h-5zM206,511h3v1h-3zM209,510h5v1h-5zM214,509h3v1h-3zM217,508h5v1h-5zM222,507h3v1h-3zM225,506h5v1h-5zM230,505h5v1h-5zM235,504h5v1h-5zM240,503h5v1h-5zM245,502h6v1h-6zM251,501h5v1h-5zM256,500h5v1h-5zM261,499h5v1h-5zM266,498h5v1h-5zM271,497h5v1h-5zM276,496h5v1h-5zM281,495h5v1h-5zM286,494h5v1h-5zM291,493h5v1h-5zM296,492h5v1h-5zM301,491h4v1h-4zM305,490h5v1h-5zM310,489h5v1h-5zM315,488h5v1h-5zM320,487h5v1h-5zM325,486h5v1h-5zM330,485h5v1h-5zM335,484h4v1h-4zM339,483h4v1h-4zM343,482h3v1h-3zM346,481h3v1h-3zM349,480h4v1h-4zM353,479h3v1h-3zM356,478h4v1h-4zM360,477h3v1h-3zM363,476h3v1h-3zM366,475h4v1h-4zM370,474h3v1h-3zM373,473h3v1h-3zM376,472h3v1h-3zM379,471h3v1h-3zM382,470h2v1h-2zM384,469h3v1h-3zM387,468h3v1h-3zM390,467h3v1h-3zM393,466h3v1h-3zM396,465h3v1h-3zM399,464h3v1h-3zM402,463h3v1h-3zM405,462h3v1h-3zM408,461h2v1h-2zM410,460h3v1h-3zM413,459h3v1h-3zM416,458h3v1h-3zM419,457h3v1h-3zM422,456h3v1h-3zM425,455h3v1h-3zM428,454h3v1h-3zM431,453h3v1h-3zM434,452h3v1h-3zM437,451h3v1h-3zM440,450h3v1h-3zM443,449h3v1h-3zM446,448h4v1h-4zM450,447h4v1h-4zM454,446h3v1h-3zM457,445h4v1h-4zM461,444h3v1h-3zM464,443h4v1h-4zM468,442h3v1h-3zM471,441h4v1h-4zM475,440h4v1h-4zM479,439h3v1h-3zM482,438h4v1h-4zM486,437h4v1h-4zM490,436h3v1h-3zM493,435h4v1h-4zM497,434h4v1h-4zM501,433h3v1h-3zM504,432h5v1h-5zM509,431h3v1h-3zM512,430h5v1h-5zM517,429h3v1h-3zM520,428h5v1h-5zM525,427h3v1h-3zM528,426h5v1h-5zM533,425h3v1h-3zM536,424h5v1h-5zM541,423h3v1h-3zM544,422h5v1h-5zM549,421h5v1h-5zM554,420h5v1h-5zM559,419h5v1h-5zM564,418h5v1h-5zM569,417h4v1h-4zM573,416h5v1h-5zM578,415h5v1h-5zM583,414h5v1h-5zM588,413h5v1h-5zM593,412h7v1h-7zM600,411h8v1h-8zM608,410h8v1h-8zM616,409h8v1h-8zM624,408h8v1h-8zM632,407h8v1h-8zM640,406h11v1h-11zM651,405h12v1h-12zM663,404h12v1h-12zM675,403h12v1h-12zM687,402h15v1h-15zM702,401h16v1h-16zM718,400h16v1h-16zM734,399h21v1h-21zM755,398h18v1h-18zM773,397h14v1h-14zM787,396h13v1h-13zM800,395h14v1h-14zM814,394h11v1h-11zM825,393h10v1h-10zM835,392h10v1h-10zM845,391h10v1h-10zM855,390h10v1h-10zM865,389h11v1h-11zM876,388h12v1h-12zM888,387h12v1h-12zM900,386h12v1h-12zM912,385h19v1h-19zM931,384h24v1h-24zM955,383h24v1h-24zM979,382h31v1h-31zM1010,381h36v1h-36zM1046,380h31v1h-31zM1077,379h24v1h-24zM1101,378h24v1h-24zM1125,377h32v1h-32zM1157,376h39v1h-39zM1228,376h95v1h-95zM1196,375h32v1h-32zM1323,375h8v1h-8zM1331,374h9v1h-9zM1340,373h16v1h-16zM1356,372h22v1h-22zM1378,371h23v1h-23zM1401,370h18v1h-18zM1419,369h13v1h-13zM1432,368h12v1h-12zM1444,367h13v1h-13zM1663,367h4v1h-4zM1457,366h13v1h-13zM1655,366h8v1h-8zM1470,365h12v1h-12zM1647,365h8v1h-8zM1482,364h13v1h-13zM1631,364h16v1h-16zM1495,363h15v1h-15zM1615,363h16v1h-16zM1510,362h18v1h-18zM1607,362h8v1h-8zM1528,361h18v1h-18zM1575,361h32v1h-32zM1546,360h29v1h-29z" fill="#ff0000" shape-rendering="crispEdges"/>
<path d="M2,453h2v1h-2zM997,453h3v1h-3zM1376,453h15v1h-15zM4,452h2v1h-2zM996,452h1v1h-1zM1391,452h16v1h-16zM6,451h2v1h-2zM993,451h3v1h-3zM1407,451h8v1h-8zM8,450h2v1h-2zM992,450h1v1h-1zM1415,450h8v1h-8zM10,449h2v1h-2zM989,449h3v1h-3zM1423,449h5v1h-5zM12,448h2v1h-2zM988,448h1v1h-1zM1428,448h2v1h-2zM14,447h2v1h-2zM985,447h3v1h-3zM1430,447h3v1h-3zM16,446h2v1h-2zM982,446h3v1h-3zM1433,446h3v1h-3zM18,445h2v1h-2zM980,445h2v1h-2zM1436,445h2v1h-2zM20,444h2v1h-2zM977,444h3v1h-3zM1438,444h3v1h-3zM22,443h2v1h-2zM974,443h3v1h-3zM1441,443h3v1h-3zM24,442h2v1h-2zM972,442h2v1h-2zM1444,442h2v1h-2zM26,441h2v1h-2zM969,441h3v1h-3zM1446,441h3v1h-3zM28,440h2v1h-2zM966,440h3v1h-3zM1449,440h3v1h-3zM30,439h2v1h-2zM964,439h2v1h-2zM1452,439h1v1h-1zM32,438h2v1h-2zM960,438h4v1h-4zM1453,438h3v1h-3zM34,437h2v1h-2zM957,437h3v1h-3zM1456,437h1v1h-1zM36,436h2v1h-2zM952,436h5v1h-5zM1457,436h3v1h-3zM38,435h2v1h-2zM949,435h3v1h-3zM1460,435h2v1h-2zM40,434h2v1h-2zM945,434h4v1h-4zM1462,434h3v1h-3zM42,433h2v1h-2zM942,433h3v1h-3zM1465,433h3v1h-3zM44,432h2v1h-2zM940,432h2v1h-2zM1468,432h1v1h-1zM46,431h2v1h-2zM937,431h3v1h-3zM1469,431h3v1h-3zM48,430h2v1h-2zM936,430h1v1h-1zM1472,430h1v1h-1zM50,429h2v1h-2zM933,429h3v1h-3zM1473,429h3v1h-3zM52,428h2v1h-2zM932,428h1v1h-1zM1476,428h1v1h-1zM54,427h2v1h-2zM929,427h3v1h-3zM1477,427h3v1h-3zM56,426h2v1h-2zM926,426h3v1h-3zM1480,426h1v1h-1zM58,425h2v1h-2zM924,425h2v1h-2zM1481,425h3v1h-3zM60,424h1v1h-1zM921,424h3v1h-3zM1484,424h2v1h-2zM61,423h2v1h-2zM918,423h3v1h-3zM1486,423h3v1h-3zM63,422h2v1h-2zM916,422h2v1h-2zM1489,422h3v1h-3zM65,421h2v1h-2zM913,421h3v1h-3zM1492,421h2v1h-2zM67,420h2v1h-2zM910,420h3v1h-3zM1494,420h3v1h-3zM69,419h2v1h-2zM908,419h2v1h-2zM1497,419h3v1h-3zM71,418h1v1h-1zM905,418h3v1h-3zM1500,418h2v1h-2zM72,417h2v1h-2zM904,417h1v1h-1zM1502,417h3v1h-3zM74,416h2v1h-2zM901,416h3v1h-3zM1505,416h4v1h-4zM76,415h2v1h-2zM900,415h1v1h-1zM1509,415h3v1h-3zM78,414h2v1h-2zM897,414h3v1h-3zM1512,414h5v1h-5zM80,413h1v1h-1zM896,413h1v1h-1zM1517,413h3v1h-3zM81,412h2v1h-2zM893,412h3v1h-3zM1520,412h5v1h-5zM83,411h2v1h-2zM892,411h1v1h-1zM1525,411h3v1h-3zM85,410h2v1h-2zM890,410h2v1h-2zM1528,410h5v1h-5zM87,409h2v1h-2zM888,409h2v1h-2zM1533,409h3v1h-3zM89,408h2v1h-2zM887,408h1v1h-1zM1536,408h5v1h-5zM91,407h1v1h-1zM885,407h2v1h-2zM1541,407h3v1h-3zM92,406h2v1h-2zM883,406h2v1h-2zM1544,406h7v1h-7zM94,405h2v1h-2zM882,405h1v1h-1zM1551,405h6v1h-6zM96,404h2v1h-2zM881,404h1v1h-1zM1557,404h3v1h-3zM98,403h2v1h-2zM879,403h2v1h-2zM1560,403h5v1h-5zM100,402h2v1h-2zM878,402h1v1h-1zM1565,402h3v1h-3zM102,401h1v1h-1zM876,401h2v1h-2zM1568,401h7v1h-7zM103,400h2v1h-2zM875,400h1v1h-1zM1575,400h8v1h-8zM105,399h2v1h-2zM874,399h1v1h-1zM1583,399h8v1h-8zM107,398h2v1h-2zM873,398h1v1h-1zM1591,398h6v1h-6zM109,397h2v1h-2zM872,397h1v1h-1zM1597,397h3v1h-3zM111,396h2v1h-2zM870,396h2v1h-2zM1600,396h5v1h-5zM113,395h2v1h-2zM869,395h1v1h-1zM1605,395h3v1h-3zM115,394h2v1h-2zM868,394h1v1h-1zM1608,394h7v1h-7zM117,393h2v1h-2zM867,393h1v1h-1zM1615,393h6v1h-6zM119,392h2v1h-2zM866,392h1v1h-1zM1621,392h3v1h-3zM121,391h1v1h-1zM865,391h1v1h-1zM1624,391h7v1h-7zM122,390h2v1h-2zM863,390h2v1h-2zM1631,390h8v1h-8zM124,389h2v1h-2zM862,389h1v1h-1zM1639,389h16v1h-16zM126,388h2v1h-2zM860,388h2v1h-2zM1655,388h8v1h-8zM128,387h2v1h-2zM859,387h1v1h-1zM1663,387h4v1h-4zM130,386h2v1h-2zM858,386h1v1h-1zM132,385h2v1h-2zM857,385h1v1h-1zM134,384h2v1h-2zM855,384h2v1h-2zM136,383h2v1h-2zM854,383h1v1h-1zM138,382h2v1h-2zM852,382h2v1h-2zM140,381h1v1h-1zM851,381h1v1h-1zM141,380h2v1h-2zM850,380h1v1h-1zM143,379h2v1h-2zM849,379h1v1h-1zM145,378h2v1h-2zM847,378h2v1h-2zM147,377h2v1h-2zM846,377h1v1h-1zM149,376h2v1h-2zM844,376h2v1h-2zM151,375h1v1h-1zM843,375h1v1h-1zM152,374h2v1h-2zM842,374h1v1h-1zM154,373h2v1h-2zM841,373h1v1h-1zM156,372h2v1h-2zM840,372h1v1h-1zM158,371h2v1h-2zM838,371h2v1h-2zM160,370h2v1h-2zM837,370h1v1h-1zM162,369h1v1h-1zM836,369h1v1h-1zM163,368h1v1h-1zM835,368h1v1h-1zM164,367h2v1h-2zM834,367h1v1h-1zM166,366h1v1h-1zM833,366h1v1h-1zM167,365h1v1h-1zM832,365h1v1h-1zM168,364h1v1h-1zM830,364h2v1h-2zM169,363h1v1h-1zM829,363h1v1h-1zM170,362h1v1h-1zM828,362h1v1h-1zM171,361h2v1h-2zM827,361h1v1h-1zM173,360h1v1h-1zM826,360h1v1h-1zM174,359h1v1h-1zM825,359h1v1h-1zM175,358h2v1h-2zM823,358h2v1h-2zM177,357h1v1h-1zM822,357h1v1h-1zM178,356h1v1h-1zM820,356h2v1h-2zM179,355h2v1h-2zM819,355h1v1h-1zM181,354h1v1h-1zM818,354h1v1h-1zM182,353h2v1h-2zM817,353h1v1h-1zM184,352h1v1h-1zM815,352h2v1h-2zM185,351h2v1h-2zM814,351h1v1h-1zM187,350h1v1h-1zM812,350h2v1h-2zM188,349h2v1h-2zM811,349h1v1h-1zM190,348h1v1h-1zM810,348h1v1h-1zM191,347h1v1h-1zM809,347h1v1h-1zM192,346h2v1h-2zM807,346h2v1h-2zM194,345h1v1h-1zM806,345h1v1h-1zM195,344h2v1h-2zM804,344h2v1h-2zM197,343h1v1h-1zM803,343h1v1h-1zM198,342h1v1h-1zM802,342h1v1h-1zM199,341h2v1h-2zM800,341h2v1h-2zM201,340h1v1h-1zM799,340h1v1h-1zM202,339h2v1h-2zM797,339h2v1h-2zM204,338h1v1h-1zM795,338h2v1h-2zM205,337h1v1h-1zM794,337h1v1h-1zM206,336h2v1h-2zM792,336h2v1h-2zM208,335h1v1h-1zM791,335h1v1h-1zM209,334h1v1h-1zM789,334h2v1h-2zM210,333h2v1h-2zM787,333h2v1h-2zM212,332h1v1h-1zM786,332h1v1h-1zM213,331h2v1h-2zM784,331h2v1h-2zM215,330h2v1h-2zM783,330h1v1h-1zM217,329h1v1h-1zM781,329h2v1h-2zM218,328h2v1h-2zM779,328h2v1h-2zM220,327h2v1h-2zM778,327h1v1h-1zM222,326h2v1h-2zM776,326h2v1h-2zM224,325h1v1h-1zM775,325h1v1h-1zM225,324h2v1h-2zM773,324h2v1h-2zM227,323h2v1h-2zM771,323h2v1h-2zM229,322h2v1h-2zM769,322h2v1h-2zM231,321h1v1h-1zM768,321h1v1h-1zM232,320h2v1h-2zM765,320h3v1h-3zM234,319h2v1h-2zM764,319h1v1h-1zM236,318h2v1h-2zM761,318h3v1h-3zM238,317h2v1h-2zM760,317h1v1h-1zM240,316h3v1h-3zM757,316h3v1h-3zM243,315h2v1h-2zM756,315h1v1h-1zM245,314h3v1h-3zM754,314h2v1h-2zM248,313h2v1h-2zM752,313h2v1h-2zM250,312h2v1h-2zM751,312h1v1h-1zM252,311h3v1h-3zM749,311h2v1h-2zM255,310h2v1h-2zM747,310h2v1h-2zM257,309h3v1h-3zM746,309h1v1h-1zM260,308h2v1h-2zM744,308h2v1h-2zM262,307h3v1h-3zM743,307h1v1h-1zM265,306h2v1h-2zM741,306h2v1h-2zM267,305h2v1h-2zM739,305h2v1h-2zM269,304h3v1h-3zM737,304h2v1h-2zM272,303h2v1h-2zM734,303h3v1h-3zM274,302h3v1h-3zM732,302h2v1h-2zM277,301h2v1h-2zM729,301h3v1h-3zM279,300h3v1h-3zM726,300h3v1h-3zM282,299h2v1h-2zM724,299h2v1h-2zM284,298h2v1h-2zM721,298h3v1h-3zM286,297h3v1h-3zM718,297h3v1h-3zM289,296h2v1h-2zM716,296h2v1h-2zM291,295h2v1h-2zM712,295h4v1h-4zM293,294h2v1h-2zM709,294h3v1h-3zM295,293h2v1h-2zM705,293h4v1h-4zM297,292h1v1h-1zM702,292h3v1h-3zM298,291h2v1h-2zM700,291h2v1h-2zM300,290h1v1h-1zM697,290h3v1h-3zM301,289h2v1h-2zM694,289h3v1h-3zM303,288h2v1h-2zM692,288h2v1h-2zM305,287h2v1h-2zM689,287h3v1h-3zM307,286h1v1h-1zM686,286h3v1h-3zM308,285h2v1h-2zM684,285h2v1h-2zM310,284h2v1h-2zM681,284h3v1h-3zM312,283h1v1h-1zM680,283h1v1h-1zM313,282h2v1h-2zM677,282h3v1h-3zM315,281h2v1h-2zM676,281h1v1h-1zM317,280h2v1h-2zM673,280h3v1h-3zM319,279h1v1h-1zM672,279h1v1h-1zM320,278h2v1h-2zM669,278h3v1h-3zM322,277h2v1h-2zM668,277h1v1h-1zM324,276h2v1h-2zM665,276h3v1h-3zM326,275h2v1h-2zM662,275h3v1h-3zM328,274h1v1h-1zM660,274h2v1h-2zM329,273h3v1h-3zM657,273h3v1h-3zM332,272h1v1h-1zM656,272h1v1h-1zM333,271h3v1h-3zM653,271h3v1h-3zM336,270h1v1h-1zM652,270h1v1h-1zM337,269h3v1h-3zM649,269h3v1h-3zM340,268h1v1h-1zM648,268h1v1h-1zM341,267h3v1h-3zM645,267h3v1h-3zM344,266h1v1h-1zM644,266h1v1h-1zM345,265h3v1h-3zM642,265h2v1h-2zM348,264h1v1h-1zM641,264h1v1h-1zM349,263h3v1h-3zM639,263h2v1h-2zM352,262h1v1h-1zM638,262h1v1h-1zM353,261h3v1h-3zM636,261h2v1h-2zM356,260h1v1h-1zM635,260h1v1h-1zM357,259h3v1h-3zM633,259h2v1h-2zM360,258h1v1h-1zM632,258h1v1h-1zM361,257h3v1h-3zM629,257h3v1h-3zM364,256h1v1h-1zM628,256h1v1h-1zM365,255h3v1h-3zM626,255h2v1h-2zM368,254h1v1h-1zM624,254h2v1h-2zM369,253h3v1h-3zM623,253h1v1h-1zM372,252h1v1h-1zM621,252h2v1h-2zM373,251h3v1h-3zM619,251h2v1h-2zM376,250h2v1h-2zM618,250h1v1h-1zM378,249h2v1h-2zM616,249h2v1h-2zM380,248h2v1h-2zM615,248h1v1h-1zM382,247h2v1h-2zM613,247h2v1h-2zM384,246h2v1h-2zM611,246h2v1h-2zM386,245h2v1h-2zM609,245h2v1h-2zM388,244h2v1h-2zM608,244h1v1h-1zM390,243h2v1h-2zM605,243h3v1h-3zM392,242h2v1h-2zM604,242h1v1h-1zM394,241h2v1h-2zM601,241h3v1h-3zM396,240h3v1h-3zM598,240h3v1h-3zM399,239h2v1h-2zM596,239h2v1h-2zM401,238h2v1h-2zM592,238h4v1h-4zM403,237h2v1h-2zM589,237h3v1h-3zM405,236h2v1h-2zM584,236h5v1h-5zM407,235h2v1h-2zM581,235h3v1h-3zM409,234h2v1h-2zM576,234h5v1h-5zM411,233h2v1h-2zM573,233h3v1h-3zM413,232h2v1h-2zM568,232h5v1h-5zM415,231h2v1h-2zM565,231h3v1h-3zM417,230h2v1h-2zM559,230h6v1h-6zM419,229h3v1h-3zM543,229h16v1h-16zM422,228h2v1h-2zM536,228h7v1h-7zM424,227h2v1h-2zM533,227h3v1h-3zM426,226h3v1h-3zM527,226h6v1h-6zM429,225h2v1h-2zM520,225h7v1h-7zM431,224h2v1h-2zM517,224h3v1h-3zM433,223h3v1h-3zM512,223h5v1h-5zM436,222h2v1h-2zM509,222h3v1h-3zM438,221h3v1h-3zM504,221h5v1h-5zM441,220h6v1h-6zM501,220h3v1h-3zM447,219h16v1h-16zM479,219h8v1h-8zM495,219h6v1h-6zM463,218h16v1h-16zM487,218h8v1h-8zM1000,454h1v1h-1zM1373,454h3v1h-3zM1001,455h3v1h-3zM1359,455h14v1h-14zM1004,456h2v1h-2zM1343,456h16v1h-16zM1006,457h3v1h-3zM1335,457h8v1h-8zM1009,458h3v1h-3zM1247,458h40v1h-40zM1327,458h8v1h-8zM1012,459h2v1h-2zM1239,459h8v1h-8zM1287,459h40v1h-40zM1014,460h3v1h-3zM1231,460h8v1h-8zM1017,461h4v1h-4zM1223,461h8v1h-8zM1021,462h3v1h-3zM1215,462h8v1h-8zM1024,463h4v1h-4zM1207,463h8v1h-8zM1028,464h1v1h-1zM1200,464h7v1h-7zM1029,465h3v1h-3zM1197,465h3v1h-3zM1032,466h1v1h-1zM1192,466h5v1h-5zM1033,467h6v1h-6zM1189,467h3v1h-3zM1039,468h6v1h-6zM1143,468h16v1h-16zM1183,468h6v1h-6zM1045,469h3v1h-3zM1079,469h24v1h-24zM1127,469h16v1h-16zM1159,469h24v1h-24zM1048,470h7v1h-7zM1063,470h16v1h-16zM1103,470h24v1h-24zM1055,471h8v1h-8z" fill="#ff00ff" shape-rendering="crispEdges"/>
<path d="M2,410h1v1h-1zM707,410h1v1h-1zM1448,410h1v1h-1zM3,409h1v1h-1zM706,409h1v1h-1zM1449,409h1v1h-1zM3,408h1v1h-1zM705,408h1v1h-1zM1450,408h1v1h-1zM4,407h1v1h-1zM703,407h2v1h-2zM1451,407h1v1h-1zM5,406h1v1h-1zM702,406h1v1h-1zM1452,406h1v1h-1zM5,405h1v1h-1zM700,405h2v1h-2zM1453,405h1v1h-1zM6,404h1v1h-1zM699,404h1v1h-1zM1454,404h2v1h-2zM7,403h1v1h-1zM698,403h1v1h-1zM1456,403h1v1h-1zM7,402h1v1h-1zM697,402h1v1h-1zM1457,402h1v1h-1zM8,401h1v1h-1zM696,401h1v1h-1zM1458,401h1v1h-1zM9,400h1v1h-1zM695,400h1v1h-1zM1459,400h1v1h-1zM9,399h1v1h-1zM694,399h1v1h-1zM1460,399h1v1h-1zM10,398h1v1h-1zM693,398h1v1h-1zM1461,398h1v1h-1zM11,397h1v1h-1zM692,397h1v1h-1zM1462,397h2v1h-2zM12,396h1v1h-1zM691,396h1v1h-1zM1464,396h1v1h-1zM12,395h1v1h-1zM690,395h1v1h-1zM1465,395h1v1h-1zM13,394h1v1h-1zM689,394h1v1h-1zM1466,394h1v1h-1zM14,393h1v1h-1zM688,393h1v1h-1zM1467,393h1v1h-1zM15,392h1v1h-1zM687,392h1v1h-1zM1468,392h1v1h-1zM15,391h1v1h-1zM686,391h1v1h-1zM1469,391h1v1h-1zM16,390h1v1h-1zM685,390h1v1h-1zM1470,390h1v1h-1zM17,389h1v1h-1zM684,389h1v1h-1zM1471,389h1v1h-1zM18,388h1v1h-1zM683,388h1v1h-1zM1472,388h1v1h-1zM19,387h1v1h-1zM682,387h1v1h-1zM1473,387h1v1h-1zM19,386h1v1h-1zM681,386h1v1h-1zM1474,386h1v1h-1zM20,385h1v1h-1zM680,385h1v1h-1zM1475,385h1v1h-1zM21,384h1v1h-1zM678,384h2v1h-2zM1476,384h1v1h-1zM22,383h1v1h-1zM677,383h1v1h-1zM1477,383h1v1h-1zM22,382h1v1h-1zM676,382h1v1h-1zM1478,382h1v1h-1zM23,381h1v1h-1zM675,381h1v1h-1zM1479,381h1v1h-1zM24,380h1v1h-1zM674,380h1v1h-1zM1480,380h1v1h-1zM25,379h1v1h-1zM672,379h2v1h-2zM1481,379h1v1h-1zM25,378h1v1h-1zM671,378h1v1h-1zM1482,378h1v1h-1zM26,377h1v1h-1zM669,377h2v1h-2zM1483,377h2v1h-2zM27,376h1v1h-1zM667,376h2v1h-2zM1485,376h2v1h-2zM28,375h1v1h-1zM666,375h1v1h-1zM1487,375h1v1h-1zM28,374h1v1h-1zM665,374h1v1h-1zM1488,374h2v1h-2zM29,373h1v1h-1zM664,373h1v1h-1zM1490,373h2v1h-2zM30,372h1v1h-1zM663,372h1v1h-1zM1492,372h1v1h-1zM31,371h1v1h-1zM662,371h1v1h-1zM1493,371h3v1h-3zM31,370h1v1h-1zM661,370h1v1h-1zM1496,370h1v1h-1zM32,369h1v1h-1zM660,369h1v1h-1zM1497,369h3v1h-3zM33,368h1v1h-1zM659,368h1v1h-1zM1500,368h2v1h-2zM34,367h1v1h-1zM658,367h1v1h-1zM1502,367h3v1h-3zM34,366h1v1h-1zM657,366h1v1h-1zM1505,366h3v1h-3zM35,365h1v1h-1zM656,365h1v1h-1zM1508,365h2v1h-2zM36,364h1v1h-1zM655,364h1v1h-1zM1510,364h3v1h-3zM37,363h1v1h-1zM654,363h1v1h-1zM1513,363h3v1h-3zM37,362h1v1h-1zM654,362h1v1h-1zM1516,362h2v1h-2zM38,361h1v1h-1zM653,361h1v1h-1zM1518,361h3v1h-3zM39,360h1v1h-1zM652,360h1v1h-1zM1521,360h4v1h-4zM39,359h1v1h-1zM651,359h1v1h-1zM1525,359h3v1h-3zM40,358h1v1h-1zM650,358h1v1h-1zM1528,358h5v1h-5zM41,357h1v1h-1zM649,357h1v1h-1zM1533,357h3v1h-3zM41,356h1v1h-1zM648,356h1v1h-1zM1536,356h4v1h-4zM42,355h1v1h-1zM647,355h1v1h-1zM1540,355h2v1h-2zM1665,355h2v1h-2zM43,354h1v1h-1zM646,354h1v1h-1zM1542,354h3v1h-3zM1662,354h3v1h-3zM43,353h1v1h-1zM645,353h1v1h-1zM1545,353h4v1h-4zM1660,353h2v1h-2zM44,352h1v1h-1zM644,352h1v1h-1zM1549,352h3v1h-3zM1657,352h3v1h-3zM45,351h1v1h-1zM643,351h1v1h-1zM1552,351h5v1h-5zM1656,351h1v1h-1zM45,350h1v1h-1zM642,350h1v1h-1zM1557,350h3v1h-3zM1653,350h3v1h-3zM46,349h1v1h-1zM641,349h1v1h-1zM1560,349h4v1h-4zM1652,349h1v1h-1zM47,348h1v1h-1zM641,348h1v1h-1zM1564,348h1v1h-1zM1648,348h4v1h-4zM47,347h1v1h-1zM640,347h1v1h-1zM1565,347h3v1h-3zM1645,347h3v1h-3zM48,346h1v1h-1zM639,346h1v1h-1zM1568,346h1v1h-1zM1641,346h4v1h-4zM49,345h1v1h-1zM638,345h1v1h-1zM1569,345h3v1h-3zM1638,345h3v1h-3zM49,344h1v1h-1zM638,344h1v1h-1zM1572,344h2v1h-2zM1636,344h2v1h-2zM50,343h1v1h-1zM637,343h1v1h-1zM1574,343h3v1h-3zM1631,343h5v1h-5zM51,342h1v1h-1zM636,342h1v1h-1zM1577,342h3v1h-3zM1616,342h15v1h-15zM51,341h1v1h-1zM635,341h1v1h-1zM1580,341h2v1h-2zM1613,341h3v1h-3zM52,340h1v1h-1zM635,340h1v1h-1zM1582,340h3v1h-3zM1608,340h5v1h-5zM53,339h1v1h-1zM634,339h1v1h-1zM1585,339h4v1h-4zM1605,339h3v1h-3zM53,338h1v1h-1zM633,338h1v1h-1zM1589,338h3v1h-3zM1599,338h6v1h-6zM54,337h1v1h-1zM633,337h1v1h-1zM1592,337h7v1h-7zM55,336h1v1h-1zM632,336h1v1h-1zM55,335h1v1h-1zM632,335h1v1h-1zM56,334h1v1h-1zM631,334h1v1h-1zM56,333h1v1h-1zM630,333h1v1h-1zM57,332h1v1h-1zM630,332h1v1h-1zM58,331h1v1h-1zM629,331h1v1h-1zM58,330h1v1h-1zM628,330h1v1h-1zM59,329h1v1h-1zM628,329h1v1h-1zM60,328h1v1h-1zM627,328h1v1h-1zM60,327h1v1h-1zM627,327h1v1h-1zM61,326h1v1h-1zM626,326h1v1h-1zM62,325h1v1h-1zM625,325h1v1h-1zM62,324h1v1h-1zM625,324h1v1h-1zM63,323h1v1h-1zM624,323h1v1h-1zM64,322h1v1h-1zM624,322h1v1h-1zM64,321h1v1h-1zM623,321h1v1h-1zM65,320h1v1h-1zM623,320h1v1h-1zM66,319h1v1h-1zM622,319h1v1h-1zM66,318h1v1h-1zM622,318h1v1h-1zM67,317h1v1h-1zM621,317h1v1h-1zM68,316h1v1h-1zM621,316h1v1h-1zM68,315h1v1h-1zM620,315h1v1h-1zM69,314h1v1h-1zM620,314h1v1h-1zM70,313h1v1h-1zM619,313h1v1h-1zM70,312h1v1h-1zM619,312h1v1h-1zM71,311h1v1h-1zM618,311h1v1h-1zM72,310h1v1h-1zM617,310h1v1h-1zM72,309h1v1h-1zM617,309h1v1h-1zM73,308h1v1h-1zM616,308h1v1h-1zM74,307h1v1h-1zM615,307h1v1h-1zM75,306h1v1h-1zM614,306h1v1h-1zM75,305h1v1h-1zM614,305h1v1h-1zM76,304h1v1h-1zM613,304h1v1h-1zM77,303h1v1h-1zM612,303h1v1h-1zM77,302h1v1h-1zM611,302h1v1h-1zM78,301h1v1h-1zM611,301h1v1h-1zM79,300h1v1h-1zM610,300h1v1h-1zM80,299h1v1h-1zM609,299h1v1h-1zM81,298h1v1h-1zM609,298h1v1h-1zM81,297h1v1h-1zM608,297h1v1h-1zM82,296h1v1h-1zM608,296h1v1h-1zM83,295h1v1h-1zM607,295h1v1h-1zM83,294h1v1h-1zM607,294h1v1h-1zM84,293h1v1h-1zM606,293h1v1h-1zM85,292h1v1h-1zM606,292h1v1h-1zM86,291h1v1h-1zM605,291h1v1h-1zM87,290h1v1h-1zM605,290h1v1h-1zM87,289h1v1h-1zM604,289h1v1h-1zM88,288h1v1h-1zM604,288h1v1h-1zM89,287h1v1h-1zM603,287h1v1h-1zM90,286h1v1h-1zM603,286h1v1h-1zM91,285h1v1h-1zM602,285h1v1h-1zM92,284h1v1h-1zM601,284h1v1h-1zM92,283h1v1h-1zM601,283h1v1h-1zM93,282h1v1h-1zM600,282h1v1h-1zM94,281h1v1h-1zM600,281h1v1h-1zM95,280h1v1h-1zM599,280h1v1h-1zM96,279h1v1h-1zM599,279h1v1h-1zM97,278h1v1h-1zM598,278h1v1h-1zM98,277h1v1h-1zM597,277h1v1h-1zM99,276h1v1h-1zM597,276h1v1h-1zM100,275h1v1h-1zM596,275h1v1h-1zM101,274h1v1h-1zM596,274h1v1h-1zM101,273h1v1h-1zM595,273h1v1h-1zM102,272h1v1h-1zM595,272h1v1h-1zM103,271h1v1h-1zM594,271h1v1h-1zM104,270h1v1h-1zM593,270h1v1h-1zM105,269h1v1h-1zM593,269h1v1h-1zM106,268h1v1h-1zM592,268h1v1h-1zM107,267h2v1h-2zM591,267h1v1h-1zM109,266h1v1h-1zM590,266h1v1h-1zM110,265h2v1h-2zM590,265h1v1h-1zM112,264h1v1h-1zM589,264h1v1h-1zM113,263h1v1h-1zM588,263h1v1h-1zM114,262h1v1h-1zM587,262h1v1h-1zM115,261h2v1h-2zM587,261h1v1h-1zM117,260h1v1h-1zM586,260h1v1h-1zM118,259h2v1h-2zM585,259h1v1h-1zM120,258h1v1h-1zM585,258h1v1h-1zM121,257h1v1h-1zM584,257h1v1h-1zM122,256h1v1h-1zM583,256h1v1h-1zM123,255h2v1h-2zM583,255h1v1h-1zM125,254h1v1h-1zM582,254h1v1h-1zM126,253h2v1h-2zM581,253h1v1h-1zM128,252h2v1h-2zM581,252h1v1h-1zM130,251h2v1h-2zM580,251h1v1h-1zM132,250h2v1h-2zM367,250h8v1h-8zM579,250h1v1h-1zM134,249h1v1h-1zM351,249h16v1h-16zM375,249h5v1h-5zM579,249h1v1h-1zM135,248h2v1h-2zM343,248h8v1h-8zM380,248h1v1h-1zM578,248h1v1h-1zM137,247h2v1h-2zM336,247h7v1h-7zM381,247h3v1h-3zM577,247h1v1h-1zM139,246h2v1h-2zM296,246h13v1h-13zM333,246h3v1h-3zM384,246h1v1h-1zM577,246h1v1h-1zM141,245h2v1h-2zM293,245h3v1h-3zM309,245h3v1h-3zM327,245h6v1h-6zM385,245h2v1h-2zM576,245h1v1h-1zM143,244h2v1h-2zM288,244h5v1h-5zM312,244h15v1h-15zM387,244h1v1h-1zM575,244h1v1h-1zM145,243h3v1h-3zM285,243h3v1h-3zM388,243h2v1h-2zM574,243h1v1h-1zM148,242h3v1h-3zM279,242h6v1h-6zM390,242h1v1h-1zM574,242h1v1h-1zM151,241h4v1h-4zM272,241h7v1h-7zM391,241h2v1h-2zM573,241h1v1h-1zM155,240h3v1h-3zM269,240h3v1h-3zM393,240h1v1h-1zM572,240h1v1h-1zM158,239h3v1h-3zM264,239h5v1h-5zM394,239h1v1h-1zM571,239h1v1h-1zM161,238h3v1h-3zM261,238h3v1h-3zM395,238h1v1h-1zM571,238h1v1h-1zM164,237h1v1h-1zM257,237h4v1h-4zM396,237h1v1h-1zM570,237h1v1h-1zM165,236h3v1h-3zM254,236h3v1h-3zM397,236h1v1h-1zM569,236h1v1h-1zM168,235h1v1h-1zM252,235h2v1h-2zM398,235h1v1h-1zM569,235h1v1h-1zM169,234h4v1h-4zM250,234h2v1h-2zM399,234h1v1h-1zM568,234h1v1h-1zM173,233h3v1h-3zM183,233h6v1h-6zM248,233h2v1h-2zM400,233h1v1h-1zM567,233h1v1h-1zM176,232h7v1h-7zM189,232h3v1h-3zM247,232h1v1h-1zM401,232h1v1h-1zM567,232h1v1h-1zM192,231h5v1h-5zM245,231h2v1h-2zM402,231h1v1h-1zM566,231h1v1h-1zM197,230h3v1h-3zM243,230h2v1h-2zM403,230h2v1h-2zM565,230h1v1h-1zM200,229h4v1h-4zM240,229h3v1h-3zM405,229h2v1h-2zM565,229h1v1h-1zM204,228h2v1h-2zM237,228h3v1h-3zM407,228h1v1h-1zM564,228h1v1h-1zM206,227h3v1h-3zM233,227h4v1h-4zM408,227h2v1h-2zM563,227h1v1h-1zM209,226h4v1h-4zM230,226h3v1h-3zM410,226h1v1h-1zM563,226h1v1h-1zM213,225h3v1h-3zM228,225h2v1h-2zM411,225h1v1h-1zM562,225h1v1h-1zM216,224h12v1h-12zM412,224h1v1h-1zM561,224h1v1h-1zM413,223h1v1h-1zM560,223h1v1h-1zM414,222h1v1h-1zM559,222h1v1h-1zM415,221h1v1h-1zM558,221h1v1h-1zM416,220h1v1h-1zM558,220h1v1h-1zM417,219h1v1h-1zM557,219h1v1h-1zM418,218h1v1h-1zM556,218h1v1h-1zM419,217h1v1h-1zM555,217h1v1h-1zM420,216h1v1h-1zM554,216h1v1h-1zM421,215h1v1h-1zM553,215h1v1h-1zM422,214h1v1h-1zM551,214h2v1h-2zM423,213h1v1h-1zM550,213h1v1h-1zM424,212h1v1h-1zM548,212h2v1h-2zM425,211h1v1h-1zM547,211h1v1h-1zM426,210h1v1h-1zM546,210h1v1h-1zM427,209h1v1h-1zM545,209h1v1h-1zM428,208h1v1h-1zM544,208h1v1h-1zM429,207h1v1h-1zM543,207h1v1h-1zM430,206h1v1h-1zM542,206h1v1h-1zM431,205h1v1h-1zM541,205h1v1h-1zM432,204h1v1h-1zM540,204h1v1h-1zM433,203h1v1h-1zM539,203h1v1h-1zM434,202h1v1h-1zM538,202h1v1h-1zM435,201h1v1h-1zM536,201h2v1h-2zM436,200h1v1h-1zM535,200h1v1h-1zM437,199h1v1h-1zM533,199h2v1h-2zM438,198h1v1h-1zM531,198h2v1h-2zM439,197h1v1h-1zM529,197h2v1h-2zM440,196h1v1h-1zM526,196h3v1h-3zM441,195h1v1h-1zM524,195h2v1h-2zM442,194h1v1h-1zM521,194h3v1h-3zM443,193h2v1h-2zM518,193h3v1h-3zM445,192h2v1h-2zM516,192h2v1h-2zM447,191h1v1h-1zM514,191h2v1h-2zM448,190h2v1h-2zM512,190h2v1h-2zM450,189h2v1h-2zM511,189h1v1h-1zM452,188h1v1h-1zM509,188h2v1h-2zM453,187h3v1h-3zM507,187h2v1h-2zM456,186h1v1h-1zM505,186h2v1h-2zM457,185h4v1h-4zM480,185h7v1h-7zM502,185h3v1h-3zM461,184h3v1h-3zM477,184h3v1h-3zM487,184h8v1h-8zM500,184h2v1h-2zM464,183h13v1h-13zM495,183h5v1h-5zM708,411h2v1h-2zM1446,411h2v1h-2zM710,412h1v1h-1zM1445,412h1v1h-1zM711,413h2v1h-2zM1444,413h1v1h-1zM713,414h1v1h-1zM1443,414h1v1h-1zM714,415h1v1h-1zM1442,415h1v1h-1zM715,416h1v1h-1zM1441,416h1v1h-1zM716,417h1v1h-1zM1440,417h1v1h-1zM717,418h1v1h-1zM1439,418h1v1h-1zM718,419h1v1h-1zM1438,419h1v1h-1zM719,420h1v1h-1zM1437,420h1v1h-1zM720,421h1v1h-1zM1436,421h1v1h-1zM721,422h1v1h-1zM1435,422h1v1h-1zM722,423h1v1h-1zM1434,423h1v1h-1zM723,424h1v1h-1zM1433,424h1v1h-1zM724,425h1v1h-1zM1431,425h2v1h-2zM725,426h1v1h-1zM1430,426h1v1h-1zM726,427h2v1h-2zM1428,427h2v1h-2zM728,428h1v1h-1zM1427,428h1v1h-1zM729,429h1v1h-1zM1425,429h2v1h-2zM730,430h1v1h-1zM1424,430h1v1h-1zM731,431h2v1h-2zM1421,431h3v1h-3zM733,432h2v1h-2zM1420,432h1v1h-1zM735,433h1v1h-1zM1417,433h3v1h-3zM736,434h2v1h-2zM1414,434h3v1h-3zM738,435h1v1h-1zM1412,435h2v1h-2zM739,436h1v1h-1zM1407,436h5v1h-5zM740,437h1v1h-1zM1225,437h6v1h-6zM1400,437h7v1h-7zM741,438h1v1h-1zM1222,438h3v1h-3zM1231,438h14v1h-14zM1397,438h3v1h-3zM742,439h2v1h-2zM1220,439h2v1h-2zM1245,439h3v1h-3zM1393,439h4v1h-4zM744,440h1v1h-1zM1217,440h3v1h-3zM1248,440h5v1h-5zM1390,440h3v1h-3zM745,441h1v1h-1zM1216,441h1v1h-1zM1253,441h3v1h-3zM1388,441h2v1h-2zM746,442h1v1h-1zM1213,442h3v1h-3zM1256,442h5v1h-5zM1383,442h5v1h-5zM747,443h1v1h-1zM1212,443h1v1h-1zM1261,443h3v1h-3zM1375,443h8v1h-8zM748,444h1v1h-1zM1210,444h2v1h-2zM1264,444h4v1h-4zM1360,444h15v1h-15zM749,445h1v1h-1zM1208,445h2v1h-2zM1268,445h2v1h-2zM1357,445h3v1h-3zM750,446h2v1h-2zM1207,446h1v1h-1zM1270,446h3v1h-3zM1352,446h5v1h-5zM752,447h1v1h-1zM1205,447h2v1h-2zM1273,447h6v1h-6zM1349,447h3v1h-3zM753,448h1v1h-1zM1203,448h2v1h-2zM1279,448h8v1h-8zM1344,448h5v1h-5zM754,449h1v1h-1zM1202,449h1v1h-1zM1287,449h8v1h-8zM1341,449h3v1h-3zM755,450h1v1h-1zM1201,450h1v1h-1zM1295,450h5v1h-5zM1337,450h4v1h-4zM756,451h2v1h-2zM1200,451h1v1h-1zM1300,451h2v1h-2zM1336,451h1v1h-1zM758,452h1v1h-1zM1199,452h1v1h-1zM1302,452h3v1h-3zM1333,452h3v1h-3zM759,453h2v1h-2zM983,453h8v1h-8zM1198,453h1v1h-1zM1305,453h3v1h-3zM1332,453h1v1h-1zM761,454h1v1h-1zM976,454h7v1h-7zM991,454h8v1h-8zM1197,454h1v1h-1zM1308,454h1v1h-1zM1328,454h4v1h-4zM762,455h2v1h-2zM973,455h3v1h-3zM999,455h6v1h-6zM1196,455h1v1h-1zM1309,455h3v1h-3zM1325,455h3v1h-3zM764,456h2v1h-2zM969,456h4v1h-4zM1005,456h3v1h-3zM1195,456h1v1h-1zM1312,456h1v1h-1zM1319,456h6v1h-6zM766,457h3v1h-3zM966,457h3v1h-3zM1008,457h5v1h-5zM1193,457h2v1h-2zM1313,457h6v1h-6zM769,458h3v1h-3zM964,458h2v1h-2zM1013,458h3v1h-3zM1190,458h3v1h-3zM772,459h2v1h-2zM961,459h3v1h-3zM1016,459h5v1h-5zM1188,459h2v1h-2zM774,460h3v1h-3zM960,460h1v1h-1zM1021,460h3v1h-3zM1185,460h3v1h-3zM777,461h4v1h-4zM957,461h3v1h-3zM1024,461h4v1h-4zM1182,461h3v1h-3zM781,462h3v1h-3zM956,462h1v1h-1zM1028,462h1v1h-1zM1180,462h2v1h-2zM784,463h7v1h-7zM952,463h4v1h-4zM1029,463h3v1h-3zM1177,463h3v1h-3zM791,464h5v1h-5zM949,464h3v1h-3zM1032,464h1v1h-1zM1174,464h3v1h-3zM796,465h2v1h-2zM945,465h4v1h-4zM1033,465h4v1h-4zM1172,465h2v1h-2zM798,466h3v1h-3zM944,466h1v1h-1zM1037,466h3v1h-3zM1168,466h4v1h-4zM801,467h6v1h-6zM941,467h3v1h-3zM1040,467h4v1h-4zM1165,467h3v1h-3zM807,468h5v1h-5zM940,468h1v1h-1zM1044,468h2v1h-2zM1160,468h5v1h-5zM812,469h1v1h-1zM935,469h5v1h-5zM1046,469h3v1h-3zM1157,469h3v1h-3zM813,470h3v1h-3zM928,470h7v1h-7zM1049,470h4v1h-4zM1152,470h5v1h-5zM816,471h1v1h-1zM925,471h3v1h-3zM1053,471h3v1h-3zM1149,471h3v1h-3zM817,472h3v1h-3zM921,472h4v1h-4zM1056,472h7v1h-7zM1145,472h4v1h-4zM820,473h2v1h-2zM920,473h1v1h-1zM1063,473h8v1h-8zM1142,473h3v1h-3zM822,474h3v1h-3zM917,474h3v1h-3zM1071,474h8v1h-8zM1140,474h2v1h-2zM825,475h4v1h-4zM916,475h1v1h-1zM1079,475h8v1h-8zM1136,475h4v1h-4zM829,476h3v1h-3zM913,476h3v1h-3zM1087,476h8v1h-8zM1103,476h8v1h-8zM1133,476h3v1h-3zM832,477h5v1h-5zM912,477h1v1h-1zM1095,477h8v1h-8zM1111,477h22v1h-22zM837,478h3v1h-3zM855,478h14v1h-14zM909,478h3v1h-3zM840,479h15v1h-15zM869,479h3v1h-3zM908,479h1v1h-1zM872,480h7v1h-7zM903,480h5v1h-5zM879,481h24v1h-24z" fill="#ffa500" shape-rendering="crispEdges"/>
</g>
<g shape-rendering="crispEdges">
<rect x="2" y="189" width="1685" height="2" fill="#ff0000"/>
<rect x="2" y="307" width="1685" height="2" fill="#ff0000"/>
<rect x="2" y="398" width="1685" height="2" fill="#32cd32"/>
<rect x="2" y="504" width="1685" height="2" fill="#4169e1"/>
</g>
<g shape-rendering="crispEdges">
<rect x="2" y="588" width="1" height="40" fill="#c0c0c0"/>
<rect x="10" y="583" width="1" height="45" fill="#c0c0c0"/>
<rect x="18" y="578" width="1" height="50" fill="#c0c0c0"/>
<rect x="26" y="577" width="1" height="51" fill="#c0c0c0"/>
<rect x="34" y="575" width="1" height="53" fill="#c0c0c0"/>
<rect x="42" y="575" width="1" height="53" fill="#c0c0c0"/>
<rect x="50" y="577" width="1" height="51" fill="#c0c0c0"/>
<rect x="58" y="577" width="1" height="51" fill="#c0c0c0"/>
<rect x="66" y="574" width="1" height="54" fill="#c0c0c0"/>
<rect x="74" y="573" width="1" height="55" fill="#c0c0c0"/>
<rect x="82" y="573" width="1" height="55" fill="#c0c0c0"/>
<rect x="90" y="576" width="1" height="52" fill="#c0c0c0"/>
<rect x="98" y="580" width="1" height="48" fill="#c0c0c0"/>
<rect x="106" y="585" width="1" height="43" fill="#c0c0c0"/>
<rect x="114" y="589" width="1" height="39" fill="#c0c0c0"/>
<rect x="122" y="591" width="1" height="37" fill="#c0c0c0"/>
<rect x="130" y="593" width="1" height="35" fill="#c0c0c0"/>
<rect x="138" y="595" width="1" height="33" fill="#c0c0c0"/>
<rect x="146" y="599" width="1" height="29" fill="#c0c0c0"/>
<rect x="154" y="602" width="1" height="26" fill="#c0c0c0"/>
<rect x="162" y="604" width="1" height="24" fill="#c0c0c0"/>
<rect x="170" y="602" width="1" height="26" fill="#c0c0c0"/>
<rect x="178" y="602" width="1" height="26" fill="#c0c0c0"/>
<rect x="186" y="603" width="1" height="25" fill="#c0c0c0"/>
<rect x="194" y="603" width="1" height="25" fill="#c0c0c0"/>
<rect x="202" y="602" width="1" height="26" fill="#c0c0c0"/>
<rect x="210" y="601" width="1" height="27" fill="#c0c0c0"/>
<rect x="218" y="604" width="1" height="24" fill="#c0c0c0"/>
<rect x="226" y="606" width="1" height="22" fill="#c0c0c0"/>
<rect x="234" y="609" width="1" height="19" fill="#c0c0c0"/>
<rect x="242" y="611" width="1" height="17" fill="#c0c0c0"/>
<rect x="250" y="617" width="1" height="11" fill="#c0c0c0"/>
<rect x="258" y="622" width="1" height="6" fill="#c0c0c0"/>
<rect x="266" y="625" width="1" height="3" fill="#c0c0c0"/>
<rect x="274" y="627" width="1" height="3" fill="#c0c0c0"/>
<rect x="282" y="627" width="1" height="5" fill="#c0c0c0"/>
<rect x="290" y="627" width="1" height="6" fill="#c0c0c0"/>
<rect x="298" y="627" width="1" height="5" fill="#c0c0c0"/>
<rect x="306" y="627" width="1" height="3" fill="#c0c0c0"/>
<rect x="322" y="626" width="1" height="2" fill="#c0c0c0"/>
<rect x="338" y="626" width="1" height="2" fill="#c0c0c0"/>
<rect x="346" y="624" width="1" height="4" fill="#c0c0c0"/>
<rect x="354" y="624" width="1" height="4" fill="#c0c0c0"/>
<rect x="362" y="621" width="1" height="7" fill="#c0c0c0"/>
<rect x="370" y="620" width="1" height="8" fill="#c0c0c0"/>
<rect x="378" y="615" width="1" height="13" fill="#c0c0c0"/>
<rect x="386" y="611" width="1" height="17" fill="#c0c0c0"/>
<rect x="394" y="604" width="1" height="24" fill="#c0c0c0"/>
<rect x="402" y="598" width="1" height="30" fill="#c0c0c0"/>
<rect x="410" y="596" width="1" height="32" fill="#c0c0c0"/>
<rect x="418" y="594" width="1" height="34" fill="#c0c0c0"/>
<rect x="426" y="594" width="1" height="34" fill="#c0c0c0"/>
<rect x="434" y="594" width="1" height="34" fill="#c0c0c0"/>
<rect x="442" y="596" width="1" height="32" fill="#c0c0c0"/>
<rect x="450" y="602" width="1" height="26" fill="#c0c0c0"/>
<rect x="458" y="606" width="1" height="22" fill="#c0c0c0"/>
<rect x="466" y="610" width="1" height="18" fill="#c0c0c0"/>
<rect x="474" y="617" width="1" height="11" fill="#c0c0c0"/>
<rect x="482" y="624" width="1" height="4" fill="#c0c0c0"/>
<rect x="498" y="627" width="1" height="4" fill="#c0c0c0"/>
<rect x="506" y="627" width="1" height="11" fill="#c0c0c0"/>
<rect x="514" y="627" width="1" height="17" fill="#c0c0c0"/>
<rect x="522" y="627" width="1" height="20" fill="#c0c0c0"/>
<rect x="530" y="627" width="1" height="21" fill="#c0c0c0"/>
<rect x="538" y="627" width="1" height="24" fill="#c0c0c0"/>
<rect x="546" y="627" width="1" height="27" fill="#c0c0c0"/>
<rect x="554" y="627" width="1" height="26" fill="#c0c0c0"/>
<rect x="562" y="627" width="1" height="24" fill="#c0c0c0"/>
<rect x="570" y="627" width="1" height="27" fill="#c0c0c0"/>
<rect x="578" y="627" width="1" height="29" fill="#c0c0c0"/>
<rect x="586" y="627" width="1" height="32" fill="#c0c0c0"/>
<rect x="594" y="627" width="1" height="33" fill="#c0c0c0"/>
<rect x="602" y="627" width="1" height="38" fill="#c0c0c0"/>
<rect x="610" y="627" width="1" height="44" fill="#c0c0c0"/>
<rect x="618" y="627" width="1" height="47" fill="#c0c0c0"/>
<rect x="626" y="627" width="1" height="53" fill="#c0c0c0"/>
<rect x="634" y="627" width="1" height="55" fill="#c0c0c0"/>
<rect x="642" y="627" width="1" height="57" fill="#c0c0c0"/>
<rect x="650" y="627" width="1" height="54" fill="#c0c0c0"/>
<rect x="658" y="627" width="1" height="51" fill="#c0c0c0"/>
<rect x="666" y="627" width="1" height="48" fill="#c0c0c0"/>
<rect x="674" y="627" width="1" height="45" fill="#c0c0c0"/>
<rect x="682" y="627" width="1" height="45" fill="#c0c0c0"/>
<rect x="690" y="627" width="1" height="44" fill="#c0c0c0"/>
<rect x="698" y="627" width="1" height="43" fill="#c0c0c0"/>
<rect x="706" y="627" width="1" height="41" fill="#c0c0c0"/>
<rect x="714" y="627" width="1" height="39" fill="#c0c0c0"/>
<rect x="722" y="627" width="1" height="36" fill="#c0c0c0"/>
<rect x="730" y="627" width="1" height="34" fill="#c0c0c0"/>
<rect x="738" y="627" width="1" height="31" fill="#c0c0c0"/>
<rect x="746" y="627" width="1" height="33" fill="#c0c0c0"/>
<rect x="754" y="627" width="1" height="35" fill="#c0c0c0"/>
<rect x="762" y="627" width="1" height="34" fill="#c0c0c0"/>
<rect x="770" y="627" width="1" height="33" fill="#c0c0c0"/>
<rect x="778" y="627" width="1" height="34" fill="#c0c0c0"/>
<rect x="786" y="627" width="1" height="33" fill="#c0c0c0"/>
<rect x="794" y="627" width="1" height="33" fill="#c0c0c0"/>
<rect x="802" y="627" width="1" height="34" fill="#c0c0c0"/>
<rect x="810" y="627" width="1" height="34" fill="#c0c0c0"/>
<rect x="818" y="627" width="1" height="33" fill="#c0c0c0"/>
<rect x="826" y="627" width="1" height="29" fill="#c0c0c0"/>
<rect x="834" y="627" width="1" height="25" fill="#c0c0c0"/>
<rect x="842" y="627" width="1" height="22" fill="#c0c0c0"/>
<rect x="850" y="627" width="1" height="19" fill="#c0c0c0"/>
<rect x="858" y="627" width="1" height="15" fill="#c0c0c0"/>
<rect x="866" y="627" width="1" height="13" fill="#c0c0c0"/>
<rect x="874" y="627" width="1" height="13" fill="#c0c0c0"/>
<rect x="882" y="627" width="1" height="11" fill="#c0c0c0"/>
<rect x="890" y="627" width="1" height="9" fill="#c0c0c0"/>
<rect x="898" y="627" width="1" height="6" fill="#c0c0c0"/>
<rect x="906" y="627" width="1" height="2" fill="#c0c0c0"/>
<rect x="914" y="625" width="1" height="3" fill="#c0c0c0"/>
<rect x="922" y="624" width="1" height="4" fill="#c0c0c0"/>
<rect x="930" y="623" width="1" height="5" fill="#c0c0c0"/>
<rect x="938" y="624" width="1" height="4" fill="#c0c0c0"/>
<rect x="946" y="624" width="1" height="4" fill="#c0c0c0"/>
<rect x="954" y="623" width="1" height="5" fill="#c0c0c0"/>
<rect x="962" y="623" width="1" height="5" fill="#c0c0c0"/>
<rect x="970" y="625" width="1" height="3" fill="#c0c0c0"/>
<rect x="986" y="627" width="1" height="4" fill="#c0c0c0"/>
<rect x="994" y="627" width="1" height="7" fill="#c0c0c0"/>
<rect x="1002" y="627" width="1" height="8" fill="#c0c0c0"/>
<rect x="1010" y="627" width="1" height="10" fill="#c0c0c0"/>
<rect x="1018" y="627" width="1" height="11" fill="#c0c0c0"/>
<rect x="1026" y="627" width="1" height="11" fill="#c0c0c0"/>
<rect x="1034" y="627" width="1" height="16" fill="#c0c0c0"/>
<rect x="1042" y="627" width="1" height="16" fill="#c0c0c0"/>
<rect x="1050" y="627" width="1" height="17" fill="#c0c0c0"/>
<rect x="1058" y="627" width="1" height="17" fill="#c0c0c0"/>
<rect x="1066" y="627" width="1" height="12" fill="#c0c0c0"/>
<rect x="1074" y="627" width="1" height="8" fill="#c0c0c0"/>
<rect x="1082" y="627" width="1" height="4" fill="#c0c0c0"/>
<rect x="1090" y="627" width="1" height="2" fill="#c0c0c0"/>
<rect x="1098" y="625" width="1" height="3" fill="#c0c0c0"/>
<rect x="1106" y="624" width="1" height="4" fill="#c0c0c0"/>
<rect x="1114" y="623" width="1" height="5" fill="#c0c0c0"/>
<rect x="1122" y="623" width="1" height="5" fill="#c0c0c0"/>
<rect x="1130" y="621" width="1" height="7" fill="#c0c0c0"/>
<rect x="1138" y="619" width="1" height="9" fill="#c0c0c0"/>
<rect x="1146" y="617" width="1" height="11" fill="#c0c0c0"/>
<rect x="1154" y="619" width="1" height="9" fill="#c0c0c0"/>
<rect x="1162" y="620" width="1" height="8" fill="#c0c0c0"/>
<rect x="1170" y="621" width="1" height="7" fill="#c0c0c0"/>
<rect x="1178" y="621" width="1" height="7" fill="#c0c0c0"/>
<rect x="1186" y="620" width="1" height="8" fill="#c0c0c0"/>
<rect x="1194" y="619" width="1" height="9" fill="#c0c0c0"/>
<rect x="1202" y="617" width="1" height="11" fill="#c0c0c0"/>
<rect x="1210" y="616" width="1" height="12" fill="#c0c0c0"/>
<rect x="1218" y="616" width="1" height="12" fill="#c0c0c0"/>
<rect x="1226" y="619" width="1" height="9" fill="#c0c0c0"/>
<rect x="1234" y="621" width="1" height="7" fill="#c0c0c0"/>
<rect x="1242" y="622" width="1" height="6" fill="#c0c0c0"/>
<rect x="1250" y="626" width="1" height="2" fill="#c0c0c0"/>
<rect x="1258" y="627" width="1" height="3" fill="#c0c0c0"/>
<rect x="1266" y="627" width="1" height="5" fill="#c0c0c0"/>
<rect x="1274" y="627" width="1" height="7" fill="#c0c0c0"/>
<rect x="1282" y="627" width="1" height="7" fill="#c0c0c0"/>
<rect x="1290" y="627" width="1" height="8" fill="#c0c0c0"/>
<rect x="1298" y="627" width="1" height="6" fill="#c0c0c0"/>
<rect x="1306" y="627" width="1" height="7" fill="#c0c0c0"/>
<rect x="1314" y="627" width="1" height="8" fill="#c0c0c0"/>
<rect x="1322" y="627" width="1" height="5" fill="#c0c0c0"/>
<rect x="1330" y="627" width="1" height="2" fill="#c0c0c0"/>
<rect x="1338" y="622" width="1" height="6" fill="#c0c0c0"/>
<rect x="1346" y="619" width="1" height="9" fill="#c0c0c0"/>
<rect x="1354" y="616" width="1" height="12" fill="#c0c0c0"/>
<rect x="1362" y="614" width="1" height="14" fill="#c0c0c0"/>
<rect x="1370" y="612" width="1" height="16" fill="#c0c0c0"/>
<rect x="1378" y="612" width="1" height="16" fill="#c0c0c0"/>
<rect x="1386" y="612" width="1" height="16" fill="#c0c0c0"/>
<rect x="1394" y="612" width="1" height="16" fill="#c0c0c0"/>
<rect x="1402" y="614" width="1" height="14" fill="#c0c0c0"/>
<rect x="1410" y="616" width="1" height="12" fill="#c0c0c0"/>
<rect x="1418" y="617" width="1" height="11" fill="#c0c0c0"/>
<rect x="1426" y="618" width="1" height="10" fill="#c0c0c0"/>
<rect x="1434" y="614" width="1" height="14" fill="#c0c0c0"/>
<rect x="1442" y="610" width="1" height="18" fill="#c0c0c0"/>
<rect x="1450" y="606" width="1" height="22" fill="#c0c0c0"/>
<rect x="1458" y="604" width="1" height="24" fill="#c0c0c0"/>
<rect x="1466" y="602" width="1" height="26" fill="#c0c0c0"/>
<rect x="1474" y="601" width="1" height="27" fill="#c0c0c0"/>
<rect x="1482" y="600" width="1" height="28" fill="#c0c0c0"/>
<rect x="1490" y="600" width="1" height="28" fill="#c0c0c0"/>
<rect x="1498" y="601" width="1" height="27" fill="#c0c0c0"/>
<rect x="1506" y="601" width="1" height="27" fill="#c0c0c0"/>
<rect x="1514" y="602" width="1" height="26" fill="#c0c0c0"/>
<rect x="1522" y="603" width="1" height="25" fill="#c0c0c0"/>
<rect x="1530" y="605" width="1" height="23" fill="#c0c0c0"/>
<rect x="1538" y="607" width="1" height="21" fill="#c0c0c0"/>
<rect x="1546" y="609" width="1" height="19" fill="#c0c0c0"/>
<rect x="1554" y="612" width="1" height="16" fill="#c0c0c0"/>
<rect x="1562" y="613" width="1" height="15" fill="#c0c0c0"/>
<rect x="1570" y="614" width="1" height="14" fill="#c0c0c0"/>
<rect x="1578" y="617" width="1" height="11" fill="#c0c0c0"/>
<rect x="1586" y="617" width="1" height="11" fill="#c0c0c0"/>
<rect x="1594" y="620" width="1" height="8" fill="#c0c0c0"/>
<rect x="1602" y="622" width="1" height="6" fill="#c0c0c0"/>
<rect x="1610" y="623" width="1" height="5" fill="#c0c0c0"/>
<rect x="1618" y="624" width="1" height="4" fill="#c0c0c0"/>
<rect x="1626" y="623" width="1" height="5" fill="#c0c0c0"/>
<rect x="1634" y="622" width="1" height="6" fill="#c0c0c0"/>
<rect x="1642" y="624" width="1" height="4" fill="#c0c0c0"/>
<rect x="1650" y="625" width="1" height="3" fill="#c0c0c0"/>
<rect x="1658" y="627" width="1" height="3" fill="#c0c0c0"/>
<rect x="1666" y="627" width="1" height="5" fill="#c0c0c0"/>
</g>
<path d="M2,600h2v1h-2zM194,600h3v1h-3zM441,600h2v1h-2zM446,600h1v1h-1zM470,600h2v1h-2zM4,599h1v1h-1zM184,599h1v1h-1zM188,599h3v1h-3zM447,599h2v1h-2zM452,599h3v1h-3zM464,599h3v1h-3zM8,597h1v1h-1zM176,597h3v1h-3zM9,596h2v1h-2zM14,594h3v1h-3zM165,594h2v1h-2zM20,592h2v1h-2zM158,592h3v1h-3zM22,591h1v1h-1zM26,590h2v1h-2zM153,590h2v1h-2zM28,589h1v1h-1zM152,589h1v1h-1zM32,588h1v1h-1zM148,588h1v1h-1zM33,587h2v1h-2zM146,587h2v1h-2zM38,585h3v1h-3zM140,585h2v1h-2zM44,584h1v1h-1zM136,584h1v1h-1zM45,583h2v1h-2zM134,583h2v1h-2zM50,582h3v1h-3zM128,582h3v1h-3zM56,580h3v1h-3zM122,580h3v1h-3zM62,579h2v1h-2zM117,579h2v1h-2zM64,578h1v1h-1zM68,578h1v1h-1zM111,578h2v1h-2zM116,578h1v1h-1zM69,577h2v1h-2zM104,577h3v1h-3zM110,577h1v1h-1zM74,576h3v1h-3zM80,575h3v1h-3zM86,575h3v1h-3zM92,575h3v1h-3zM98,575h3v1h-3zM142,586h1v1h-1zM164,593h1v1h-1zM170,595h3v1h-3zM182,598h2v1h-2zM458,598h3v1h-3zM200,601h3v1h-3zM206,601h1v1h-1zM440,601h1v1h-1zM472,601h1v1h-1zM207,602h2v1h-2zM212,602h3v1h-3zM218,602h3v1h-3zM436,602h1v1h-1zM476,602h2v1h-2zM1514,602h3v1h-3zM1520,602h3v1h-3zM1526,602h3v1h-3zM1532,602h3v1h-3zM1538,602h3v1h-3zM224,603h3v1h-3zM230,603h1v1h-1zM434,603h2v1h-2zM478,603h1v1h-1zM1503,603h2v1h-2zM1508,603h3v1h-3zM1544,603h3v1h-3zM1550,603h1v1h-1zM231,604h2v1h-2zM236,604h3v1h-3zM430,604h1v1h-1zM482,604h2v1h-2zM1496,604h3v1h-3zM1502,604h1v1h-1zM1551,604h2v1h-2zM1556,604h1v1h-1zM242,605h3v1h-3zM428,605h2v1h-2zM484,605h1v1h-1zM1557,605h2v1h-2zM248,606h3v1h-3zM1490,606h3v1h-3zM1562,606h3v1h-3zM254,607h2v1h-2zM422,607h3v1h-3zM488,607h1v1h-1zM1485,607h2v1h-2zM1568,607h3v1h-3zM256,608h1v1h-1zM489,608h2v1h-2zM1480,608h1v1h-1zM1484,608h1v1h-1zM1574,608h2v1h-2zM260,609h2v1h-2zM417,609h2v1h-2zM1478,609h2v1h-2zM1576,609h1v1h-1zM1580,609h1v1h-1zM262,610h1v1h-1zM416,610h1v1h-1zM494,610h2v1h-2zM1472,610h3v1h-3zM1581,610h2v1h-2zM266,611h2v1h-2zM412,611h1v1h-1zM496,611h1v1h-1zM1466,611h3v1h-3zM1586,611h3v1h-3zM268,612h1v1h-1zM410,612h2v1h-2zM1455,612h2v1h-2zM1460,612h3v1h-3zM272,613h1v1h-1zM500,613h1v1h-1zM1448,613h3v1h-3zM1454,613h1v1h-1zM1592,613h3v1h-3zM1598,613h1v1h-1zM273,614h2v1h-2zM405,614h2v1h-2zM501,614h2v1h-2zM1407,614h2v1h-2zM1412,614h3v1h-3zM1418,614h3v1h-3zM1424,614h3v1h-3zM1430,614h3v1h-3zM1436,614h3v1h-3zM1442,614h3v1h-3zM1599,614h2v1h-2zM1604,614h1v1h-1zM278,616h3v1h-3zM1394,616h3v1h-3zM1610,616h3v1h-3zM284,618h2v1h-2zM507,618h2v1h-2zM1388,618h1v1h-1zM1616,618h3v1h-3zM1622,618h1v1h-1zM286,619h1v1h-1zM393,619h2v1h-2zM1202,619h3v1h-3zM1208,619h3v1h-3zM1214,619h3v1h-3zM1220,619h3v1h-3zM1226,619h3v1h-3zM1232,619h3v1h-3zM1238,619h3v1h-3zM1244,619h3v1h-3zM1250,619h3v1h-3zM1382,619h3v1h-3zM1623,619h2v1h-2zM1628,619h3v1h-3zM290,620h2v1h-2zM392,620h1v1h-1zM1178,620h3v1h-3zM1184,620h3v1h-3zM1190,620h3v1h-3zM1196,620h3v1h-3zM1256,620h3v1h-3zM1634,620h3v1h-3zM292,621h1v1h-1zM388,621h1v1h-1zM512,621h2v1h-2zM1160,621h3v1h-3zM1166,621h3v1h-3zM1172,621h3v1h-3zM1262,621h2v1h-2zM1376,621h3v1h-3zM1640,621h3v1h-3zM1646,621h1v1h-1zM296,622h1v1h-1zM386,622h2v1h-2zM514,622h1v1h-1zM1154,622h3v1h-3zM1264,622h1v1h-1zM1268,622h1v1h-1zM1647,622h2v1h-2zM1652,622h3v1h-3zM297,623h2v1h-2zM376,623h1v1h-1zM380,623h3v1h-3zM1144,623h1v1h-1zM1148,623h3v1h-3zM1269,623h2v1h-2zM1370,623h3v1h-3zM1658,623h3v1h-3zM302,624h2v1h-2zM374,624h2v1h-2zM518,624h1v1h-1zM968,624h3v1h-3zM974,624h3v1h-3zM980,624h3v1h-3zM1142,624h2v1h-2zM1274,624h3v1h-3zM1365,624h2v1h-2zM304,625h1v1h-1zM308,625h1v1h-1zM368,625h3v1h-3zM519,625h1v1h-1zM962,625h3v1h-3zM986,625h3v1h-3zM1136,625h3v1h-3zM1364,625h1v1h-1zM1664,625h3v1h-3zM309,626h2v1h-2zM362,626h3v1h-3zM520,626h1v1h-1zM952,626h1v1h-1zM956,626h3v1h-3zM992,626h3v1h-3zM998,626h1v1h-1zM1280,626h3v1h-3zM1358,626h3v1h-3zM314,627h3v1h-3zM351,627h2v1h-2zM356,627h3v1h-3zM950,627h2v1h-2zM999,627h2v1h-2zM1004,627h3v1h-3zM1130,627h3v1h-3zM1286,627h2v1h-2zM320,628h3v1h-3zM326,628h1v1h-1zM344,628h3v1h-3zM350,628h1v1h-1zM524,628h1v1h-1zM944,628h3v1h-3zM1010,628h3v1h-3zM1126,628h1v1h-1zM1288,628h1v1h-1zM1292,628h3v1h-3zM1352,628h3v1h-3zM327,629h2v1h-2zM332,629h3v1h-3zM338,629h3v1h-3zM525,629h2v1h-2zM1124,629h2v1h-2zM1298,629h3v1h-3zM398,617h3v1h-3zM506,617h1v1h-1zM1389,617h2v1h-2zM404,615h1v1h-1zM1400,615h3v1h-3zM1406,615h1v1h-1zM1605,615h2v1h-2zM530,631h1v1h-1zM928,631h1v1h-1zM932,631h3v1h-3zM1023,631h2v1h-2zM1118,631h2v1h-2zM1310,631h2v1h-2zM1335,631h2v1h-2zM1340,631h3v1h-3zM531,632h2v1h-2zM926,632h2v1h-2zM1028,632h2v1h-2zM1112,632h3v1h-3zM1312,632h1v1h-1zM1316,632h3v1h-3zM1322,632h3v1h-3zM1328,632h3v1h-3zM1334,632h1v1h-1zM536,635h2v1h-2zM916,635h1v1h-1zM1040,635h3v1h-3zM1101,635h2v1h-2zM538,636h1v1h-1zM914,636h2v1h-2zM1046,636h2v1h-2zM1095,636h2v1h-2zM1100,636h1v1h-1zM542,638h2v1h-2zM908,638h1v1h-1zM1053,638h2v1h-2zM1082,638h3v1h-3zM544,639h1v1h-1zM902,639h3v1h-3zM1058,639h3v1h-3zM1064,639h3v1h-3zM1070,639h3v1h-3zM1076,639h3v1h-3zM548,641h2v1h-2zM896,641h3v1h-3zM550,642h1v1h-1zM554,643h3v1h-3zM890,643h3v1h-3zM560,645h3v1h-3zM884,645h2v1h-2zM566,647h3v1h-3zM878,647h3v1h-3zM572,648h1v1h-1zM573,649h2v1h-2zM872,649h3v1h-3zM578,650h3v1h-3zM584,652h3v1h-3zM590,652h1v1h-1zM861,652h2v1h-2zM591,653h2v1h-2zM596,653h1v1h-1zM856,653h1v1h-1zM860,653h1v1h-1zM597,654h2v1h-2zM854,654h2v1h-2zM602,655h3v1h-3zM848,655h3v1h-3zM608,657h3v1h-3zM842,657h3v1h-3zM614,658h2v1h-2zM831,658h2v1h-2zM836,658h3v1h-3zM616,659h1v1h-1zM794,659h3v1h-3zM800,659h3v1h-3zM806,659h3v1h-3zM812,659h3v1h-3zM824,659h3v1h-3zM830,659h1v1h-1zM620,660h2v1h-2zM776,660h3v1h-3zM782,660h3v1h-3zM788,660h3v1h-3zM818,660h3v1h-3zM622,661h1v1h-1zM770,661h3v1h-3zM626,662h2v1h-2zM759,662h2v1h-2zM764,662h3v1h-3zM628,663h1v1h-1zM752,663h3v1h-3zM758,663h1v1h-1zM632,665h1v1h-1zM741,665h2v1h-2zM633,666h2v1h-2zM736,666h1v1h-1zM740,666h1v1h-1zM638,668h3v1h-3zM728,668h3v1h-3zM644,670h2v1h-2zM722,670h3v1h-3zM646,671h1v1h-1zM717,671h2v1h-2zM650,672h3v1h-3zM712,672h1v1h-1zM716,672h1v1h-1zM656,674h3v1h-3zM704,674h3v1h-3zM662,675h2v1h-2zM698,675h3v1h-3zM664,676h1v1h-1zM668,676h3v1h-3zM674,676h3v1h-3zM680,676h3v1h-3zM686,676h3v1h-3zM692,676h3v1h-3zM710,673h2v1h-2zM734,667h2v1h-2zM746,664h3v1h-3zM866,651h3v1h-3zM886,644h1v1h-1zM909,637h2v1h-2zM1048,637h1v1h-1zM1052,637h1v1h-1zM1088,637h3v1h-3zM1094,637h1v1h-1zM920,634h1v1h-1zM1034,634h3v1h-3zM1106,634h3v1h-3zM921,633h2v1h-2zM1030,633h1v1h-1zM938,630h3v1h-3zM1016,630h3v1h-3zM1022,630h1v1h-1zM1120,630h1v1h-1zM1304,630h3v1h-3zM1346,630h3v1h-3z" fill="#ff0000" shape-rendering="crispEdges"/>
<g shape-rendering="crispEdges">
<path d="M3,730h3v1h-3zM9,730h3v1h-3zM15,730h3v1h-3zM21,730h3v1h-3zM27,730h3v1h-3zM33,730h3v1h-3zM39,730h3v1h-3zM45,730h3v1h-3zM51,730h3v1h-3zM57,730h3v1h-3zM63,730h3v1h-3zM69,730h3v1h-3zM75,730h3v1h-3zM81,730h3v1h-3zM87,730h3v1h-3zM93,730h3v1h-3zM99,730h3v1h-3zM105,730h3v1h-3zM111,730h3v1h-3zM117,730h3v1h-3zM123,730h3v1h-3zM129,730h3v1h-3zM135,730h3v1h-3zM141,730h3v1h-3zM147,730h3v1h-3zM153,730h3v1h-3zM159,730h3v1h-3zM165,730h3v1h-3zM171,730h3v1h-3zM177,730h3v1h-3zM183,730h3v1h-3zM189,730h3v1h-3zM195,730h3v1h-3zM201,730h3v1h-3zM207,730h3v1h-3zM213,730h3v1h-3zM219,730h3v1h-3zM225,730h3v1h-3zM231,730h3v1h-3zM237,730h3v1h-3zM243,730h3v1h-3zM249,730h3v1h-3zM255,730h3v1h-3zM261,730h3v1h-3zM267,730h3v1h-3zM273,730h3v1h-3zM279,730h3v1h-3zM285,730h3v1h-3zM291,730h3v1h-3zM297,730h3v1h-3zM303,730h3v1h-3zM309,730h3v1h-3zM315,730h3v1h-3zM321,730h3v1h-3zM327,730h3v1h-3zM333,730h3v1h-3zM339,730h3v1h-3zM345,730h3v1h-3zM351,730h3v1h-3zM357,730h3v1h-3zM363,730h3v1h-3zM369,730h3v1h-3zM375,730h3v1h-3zM381,730h3v1h-3zM387,730h3v1h-3zM393,730h3v1h-3zM399,730h3v1h-3zM405,730h3v1h-3zM411,730h3v1h-3zM417,730h3v1h-3zM423,730h3v1h-3zM429,730h3v1h-3zM435,730h3v1h-3zM441,730h3v1h-3zM447,730h3v1h-3zM453,730h3v1h-3zM459,730h3v1h-3zM465,730h3v1h-3zM471,730h3v1h-3zM477,730h3v1h-3zM483,730h3v1h-3zM489,730h3v1h-3zM495,730h3v1h-3zM501,730h3v1h-3zM507,730h3v1h-3zM513,730h3v1h-3zM519,730h3v1h-3zM525,730h3v1h-3zM531,730h3v1h-3zM537,730h3v1h-3zM543,730h3v1h-3zM549,730h3v1h-3zM555,730h3v1h-3zM561,730h3v1h-3zM567,730h3v1h-3zM573,730h3v1h-3zM579,730h3v1h-3zM585,730h3v1h-3zM591,730h3v1h-3zM597,730h3v1h-3zM603,730h3v1h-3zM609,730h3v1h-3zM615,730h3v1h-3zM621,730h3v1h-3zM627,730h3v1h-3zM633,730h3v1h-3zM639,730h3v1h-3zM645,730h3v1h-3zM651,730h3v1h-3zM657,730h3v1h-3zM663,730h3v1h-3zM669,730h3v1h-3zM675,730h3v1h-3zM681,730h3v1h-3zM687,730h3v1h-3zM693,730h3v1h-3zM699,730h3v1h-3zM705,730h3v1h-3zM711,730h3v1h-3zM717,730h3v1h-3zM723,730h3v1h-3zM729,730h3v1h-3zM735,730h3v1h-3zM741,730h3v1h-3zM747,730h3v1h-3zM753,730h3v1h-3zM759,730h3v1h-3zM765,730h3v1h-3zM771,730h3v1h-3zM777,730h3v1h-3zM783,730h3v1h-3zM789,730h3v1h-3zM795,730h3v1h-3zM801,730h3v1h-3zM807,730h3v1h-3zM813,730h3v1h-3zM819,730h3v1h-3zM825,730h3v1h-3zM831,730h3v1h-3zM837,730h3v1h-3zM843,730h3v1h-3zM849,730h3v1h-3zM855,730h3v1h-3zM861,730h3v1h-3zM867,730h3v1h-3zM873,730h3v1h-3zM879,730h3v1h-3zM885,730h3v1h-3zM891,730h3v1h-3zM897,730h3v1h-3zM903,730h3v1h-3zM909,730h3v1h-3zM915,730h3v1h-3zM921,730h3v1h-3zM927,730h3v1h-3zM933,730h3v1h-3zM939,730h3v1h-3zM945,730h3v1h-3zM951,730h3v1h-3zM957,730h3v1h-3zM963,730h3v1h-3zM969,730h3v1h-3zM975,730h3v1h-3zM981,730h3v1h-3zM987,730h3v1h-3zM993,730h3v1h-3zM999,730h3v1h-3zM1005,730h3v1h-3zM1011,730h3v1h-3zM1017,730h3v1h-3zM1023,730h3v1h-3zM1029,730h3v1h-3zM1035,730h3v1h-3zM1041,730h3v1h-3zM1047,730h3v1h-3zM1053,730h3v1h-3zM1059,730h3v1h-3zM1065,730h3v1h-3zM1071,730h3v1h-3zM1077,730h3v1h-3zM1083,730h3v1h-3zM1089,730h3v1h-3zM1095,730h3v1h-3zM1101,730h3v1h-3zM1107,730h3v1h-3zM1113,730h3v1h-3zM1119,730h3v1h-3zM1125,730h3v1h-3zM1131,730h3v1h-3zM1137,730h3v1h-3zM1143,730h3v1h-3zM1149,730h3v1h-3zM1155,730h3v1h-3zM1161,730h3v1h-3zM1167,730h3v1h-3zM1173,730h3v1h-3zM1179,730h3v1h-3zM1185,730h3v1h-3zM1191,730h3v1h-3zM1197,730h3v1h-3zM1203,730h3v1h-3zM1209,730h3v1h-3zM1215,730h3v1h-3zM1221,730h3v1h-3zM1227,730h3v1h-3zM1233,730h3v1h-3zM1239,730h3v1h-3zM1245,730h3v1h-3zM1251,730h3v1h-3zM1257,730h3v1h-3zM1263,730h3v1h-3zM1269,730h3v1h-3zM1275,730h3v1h-3zM1281,730h3v1h-3zM1287,730h3v1h-3zM1293,730h3v1h-3zM1299,730h3v1h-3zM1305,730h3v1h-3zM1311,730h3v1h-3zM1317,730h3v1h-3zM1323,730h3v1h-3zM1329,730h3v1h-3zM1335,730h3v1h-3zM1341,730h3v1h-3zM1347,730h3v1h-3zM1353,730h3v1h-3zM1359,730h3v1h-3zM1365,730h3v1h-3zM1371,730h3v1h-3zM1377,730h3v1h-3zM1383,730h3v1h-3zM1389,730h3v1h-3zM1395,730h3v1h-3zM1401,730h3v1h-3zM1407,730h3v1h-3zM1413,730h3v1h-3zM1419,730h3v1h-3zM1425,730h3v1h-3zM1431,730h3v1h-3zM1437,730h3v1h-3zM1443,730h3v1h-3zM1449,730h3v1h-3zM1455,730h3v1h-3zM1461,730h3v1h-3zM1467,730h3v1h-3zM1473,730h3v1h-3zM1479,730h3v1h-3zM1485,730h3v1h-3zM1491,730h3v1h-3zM1497,730h3v1h-3zM1503,730h3v1h-3zM1509,730h3v1h-3zM1515,730h3v1h-3zM1521,730h3v1h-3zM1527,730h3v1h-3zM1533,730h3v1h-3zM1539,730h3v1h-3zM1545,730h3v1h-3zM1551,730h3v1h-3zM1557,730h3v1h-3zM1563,730h3v1h-3zM1569,730h3v1h-3zM1575,730h3v1h-3zM1581,730h3v1h-3zM1587,730h3v1h-3zM1593,730h3v1h-3zM1599,730h3v1h-3zM1605,730h3v1h-3zM1611,730h3v1h-3zM1617,730h3v1h-3zM1623,730h3v1h-3zM1629,730h3v1h-3zM1635,730h3v1h-3zM1641,730h3v1h-3zM1647,730h3v1h-3zM1653,730h3v1h-3zM1659,730h3v1h-3zM1665,730h3v1h-3zM1671,730h3v1h-3zM1677,730h3v1h-3zM1683,730h3v1h-3z" fill="#c0c0c0"/>
<path d="M3,780h3v1h-3zM9,780h3v1h-3zM15,780h3v1h-3zM21,780h3v1h-3zM27,780h3v1h-3zM33,780h3v1h-3zM39,780h3v1h-3zM45,780h3v1h-3zM51,780h3v1h-3zM57,780h3v1h-3zM63,780h3v1h-3zM69,780h3v1h-3zM75,780h3v1h-3zM81,780h3v1h-3zM87,780h3v1h-3zM93,780h3v1h-3zM99,780h3v1h-3zM105,780h3v1h-3zM111,780h3v1h-3zM117,780h3v1h-3zM123,780h3v1h-3zM129,780h3v1h-3zM135,780h3v1h-3zM141,780h3v1h-3zM147,780h3v1h-3zM153,780h3v1h-3zM159,780h3v1h-3zM165,780h3v1h-3zM171,780h3v1h-3zM177,780h3v1h-3zM183,780h3v1h-3zM189,780h3v1h-3zM195,780h3v1h-3zM201,780h3v1h-3zM207,780h3v1h-3zM213,780h3v1h-3zM219,780h3v1h-3zM225,780h3v1h-3zM231,780h3v1h-3zM237,780h3v1h-3zM243,780h3v1h-3zM249,780h3v1h-3zM255,780h3v1h-3zM261,780h3v1h-3zM267,780h3v1h-3zM273,780h3v1h-3zM279,780h3v1h-3zM285,780h3v1h-3zM291,780h3v1h-3zM297,780h3v1h-3zM303,780h3v1h-3zM309,780h3v1h-3zM315,780h3v1h-3zM321,780h3v1h-3zM327,780h3v1h-3zM333,780h3v1h-3zM339,780h3v1h-3zM345,780h3v1h-3zM351,780h3v1h-3zM357,780h3v1h-3zM363,780h3v1h-3zM369,780h3v1h-3zM375,780h3v1h-3zM381,780h3v1h-3zM387,780h3v1h-3zM393,780h3v1h-3zM399,780h3v1h-3zM405,780h3v1h-3zM411,780h3v1h-3zM417,780h3v1h-3zM423,780h3v1h-3zM429,780h3v1h-3zM435,780h3v1h-3zM441,780h3v1h-3zM447,780h3v1h-3zM453,780h3v1h-3zM459,780h3v1h-3zM465,780h3v1h-3zM471,780h3v1h-3zM477,780h3v1h-3zM483,780h3v1h-3zM489,780h3v1h-3zM495,780h3v1h-3zM501,780h3v1h-3zM507,780h3v1h-3zM513,780h3v1h-3zM519,780h3v1h-3zM525,780h3v1h-3zM531,780h3v1h-3zM537,780h3v1h-3zM543,780h3v1h-3zM549,780h3v1h-3zM555,780h3v1h-3zM561,780h3v1h-3zM567,780h3v1h-3zM573,780h3v1h-3zM579,780h3v1h-3zM585,780h3v1h-3zM591,780h3v1h-3zM597,780h3v1h-3zM603,780h3v1h-3zM609,780h3v1h-3zM615,780h3v1h-3zM621,780h3v1h-3zM627,780h3v1h-3zM633,780h3v1h-3zM639,780h3v1h-3zM645,780h3v1h-3zM651,780h3v1h-3zM657,780h3v1h-3zM663,780h3v1h-3zM669,780h3v1h-3zM675,780h3v1h-3zM681,780h3v1h-3zM687,780h3v1h-3zM693,780h3v1h-3zM699,780h3v1h-3zM705,780h3v1h-3zM711,780h3v1h-3zM717,780h3v1h-3zM723,780h3v1h-3zM729,780h3v1h-3zM735,780h3v1h-3zM741,780h3v1h-3zM747,780h3v1h-3zM753,780h3v1h-3zM759,780h3v1h-3zM765,780h3v1h-3zM771,780h3v1h-3zM777,780h3v1h-3zM783,780h3v1h-3zM789,780h3v1h-3zM795,780h3v1h-3zM801,780h3v1h-3zM807,780h3v1h-3zM813,780h3v1h-3zM819,780h3v1h-3zM825,780h3v1h-3zM831,780h3v1h-3zM837,780h3v1h-3zM843,780h3v1h-3zM849,780h3v1h-3zM855,780h3v1h-3zM861,780h3v1h-3zM867,780h3v1h-3zM873,780h3v1h-3zM879,780h3v1h-3zM885,780h3v1h-3zM891,780h3v1h-3zM897,780h3v1h-3zM903,780h3v1h-3zM909,780h3v1h-3zM915,780h3v1h-3zM921,780h3v1h-3zM927,780h3v1h-3zM933,780h3v1h-3zM939,780h3v1h-3zM945,780h3v1h-3zM951,780h3v1h-3zM957,780h3v1h-3zM963,780h3v1h-3zM969,780h3v1h-3zM975,780h3v1h-3zM981,780h3v1h-3zM987,780h3v1h-3zM993,780h3v1h-3zM999,780h3v1h-3zM1005,780h3v1h-3zM1011,780h3v1h-3zM1017,780h3v1h-3zM1023,780h3v1h-3zM1029,780h3v1h-3zM1035,780h3v1h-3zM1041,780h3v1h-3zM1047,780h3v1h-3zM1053,780h3v1h-3zM1059,780h3v1h-3zM1065,780h3v1h-3zM1071,780h3v1h-3zM1077,780h3v1h-3zM1083,780h3v1h-3zM1089,780h3v1h-3zM1095,780h3v1h-3zM1101,780h3v1h-3zM1107,780h3v1h-3zM1113,780h3v1h-3zM1119,780h3v1h-3zM1125,780h3v1h-3zM1131,780h3v1h-3zM1137,780h3v1h-3zM1143,780h3v1h-3zM1149,780h3v1h-3zM1155,780h3v1h-3zM1161,780h3v1h-3zM1167,780h3v1h-3zM1173,780h3v1h-3zM1179,780h3v1h-3zM1185,780h3v1h-3zM1191,780h3v1h-3zM1197,780h3v1h-3zM1203,780h3v1h-3zM1209,780h3v1h-3zM1215,780h3v1h-3zM1221,780h3v1h-3zM1227,780h3v1h-3zM1233,780h3v1h-3zM1239,780h3v1h-3zM1245,780h3v1h-3zM1251,780h3v1h-3zM1257,780h3v1h-3zM1263,780h3v1h-3zM1269,780h3v1h-3zM1275,780h3v1h-3zM1281,780h3v1h-3zM1287,780h3v1h-3zM1293,780h3v1h-3zM1299,780h3v1h-3zM1305,780h3v1h-3zM1311,780h3v1h-3zM1317,780h3v1h-3zM1323,780h3v1h-3zM1329,780h3v1h-3zM1335,780h3v1h-3zM1341,780h3v1h-3zM1347,780h3v1h-3zM1353,780h3v1h-3zM1359,780h3v1h-3zM1365,780h3v1h-3zM1371,780h3v1h-3zM1377,780h3v1h-3zM1383,780h3v1h-3zM1389,780h3v1h-3zM1395,780h3v1h-3zM1401,780h3v1h-3zM1407,780h3v1h-3zM1413,780h3v1h-3zM1419,780h3v1h-3zM1425,780h3v1h-3zM1431,780h3v1h-3zM1437,780h3v1h-3zM1443,780h3v1h-3zM1449,780h3v1h-3zM1455,780h3v1h-3zM1461,780h3v1h-3zM1467,780h3v1h-3zM1473,780h3v1h-3zM1479,780h3v1h-3zM1485,780h3v1h-3zM1491,780h3v1h-3zM1497,780h3v1h-3zM1503,780h3v1h-3zM1509,780h3v1h-3zM1515,780h3v1h-3zM1521,780h3v1h-3zM1527,780h3v1h-3zM1533,780h3v1h-3zM1539,780h3v1h-3zM1545,780h3v1h-3zM1551,780h3v1h-3zM1557,780h3v1h-3zM1563,780h3v1h-3zM1569,780h3v1h-3zM1575,780h3v1h-3zM1581,780h3v1h-3zM1587,780h3v1h-3zM1593,780h3v1h-3zM1599,780h3v1h-3zM1605,780h3v1h-3zM1611,780h3v1h-3zM1617,780h3v1h-3zM1623,780h3v1h-3zM1629,780h3v1h-3zM1635,780h3v1h-3zM1641,780h3v1h-3zM1647,780h3v1h-3zM1653,780h3v1h-3zM1659,780h3v1h-3zM1665,780h3v1h-3zM1671,780h3v1h-3zM1677,780h3v1h-3zM1683,780h3v1h-3z" fill="#c0c0c0"/>
</g>
<path d="M2,715h2v1h-2zM20,715h1v1h-1zM4,714h2v1h-2zM20,714h1v1h-1zM6,713h3v1h-3zM20,713h1v1h-1zM9,712h4v1h-4zM19,712h1v1h-1zM13,711h3v1h-3zM18,711h1v1h-1zM16,710h3v1h-3zM21,716h1v1h-1zM22,717h1v1h-1zM22,718h1v1h-1zM22,719h1v1h-1zM23,720h1v1h-1zM24,721h1v1h-1zM24,722h1v1h-1zM24,723h1v1h-1zM33,723h3v1h-3zM25,724h1v1h-1zM30,724h3v1h-3zM36,724h2v1h-2zM66,724h10v1h-10zM26,725h1v1h-1zM28,725h2v1h-2zM38,725h3v1h-3zM65,725h1v1h-1zM76,725h2v1h-2zM26,726h2v1h-2zM41,726h2v1h-2zM63,726h2v1h-2zM78,726h3v1h-3zM43,727h1v1h-1zM62,727h1v1h-1zM81,727h2v1h-2zM399,727h4v1h-4zM44,728h1v1h-1zM60,728h2v1h-2zM83,728h1v1h-1zM394,728h5v1h-5zM403,728h1v1h-1zM45,729h1v1h-1zM59,729h1v1h-1zM84,729h1v1h-1zM393,729h1v1h-1zM404,729h1v1h-1zM1442,729h3v1h-3zM1471,729h6v1h-6zM46,730h1v1h-1zM58,730h1v1h-1zM84,730h1v1h-1zM392,730h1v1h-1zM404,730h1v1h-1zM1440,730h2v1h-2zM1445,730h3v1h-3zM1455,730h16v1h-16zM1477,730h3v1h-3zM46,731h1v1h-1zM56,731h2v1h-2zM85,731h1v1h-1zM390,731h2v1h-2zM405,731h1v1h-1zM1439,731h1v1h-1zM1448,731h7v1h-7zM1480,731h5v1h-5zM47,732h1v1h-1zM55,732h1v1h-1zM86,732h1v1h-1zM389,732h1v1h-1zM406,732h1v1h-1zM1437,732h2v1h-2zM1485,732h3v1h-3zM48,733h1v1h-1zM53,733h2v1h-2zM87,733h1v1h-1zM388,733h1v1h-1zM407,733h1v1h-1zM1435,733h2v1h-2zM1488,733h3v1h-3zM49,734h1v1h-1zM51,734h2v1h-2zM88,734h1v1h-1zM387,734h1v1h-1zM408,734h1v1h-1zM1434,734h1v1h-1zM1491,734h1v1h-1zM50,735h1v1h-1zM88,735h1v1h-1zM385,735h2v1h-2zM408,735h1v1h-1zM1434,735h1v1h-1zM1492,735h2v1h-2zM1505,735h4v1h-4zM89,736h1v1h-1zM382,736h3v1h-3zM409,736h1v1h-1zM415,736h5v1h-5zM1338,736h2v1h-2zM1433,736h1v1h-1zM1494,736h1v1h-1zM1504,736h1v1h-1zM1509,736h3v1h-3zM1519,736h4v1h-4zM90,737h1v1h-1zM170,737h2v1h-2zM380,737h2v1h-2zM410,737h5v1h-5zM420,737h1v1h-1zM433,737h2v1h-2zM1337,737h1v1h-1zM1340,737h2v1h-2zM1432,737h1v1h-1zM1495,737h2v1h-2zM1501,737h3v1h-3zM1512,737h7v1h-7zM1523,737h1v1h-1zM91,738h2v1h-2zM169,738h1v1h-1zM172,738h1v1h-1zM202,738h5v1h-5zM378,738h2v1h-2zM421,738h3v1h-3zM430,738h3v1h-3zM435,738h1v1h-1zM1336,738h1v1h-1zM1342,738h3v1h-3zM1359,738h6v1h-6zM1432,738h1v1h-1zM1497,738h1v1h-1zM1500,738h1v1h-1zM1523,738h1v1h-1zM93,739h2v1h-2zM169,739h1v1h-1zM173,739h3v1h-3zM200,739h2v1h-2zM207,739h4v1h-4zM377,739h1v1h-1zM424,739h1v1h-1zM428,739h2v1h-2zM436,739h1v1h-1zM1201,739h3v1h-3zM1335,739h1v1h-1zM1345,739h14v1h-14zM1365,739h3v1h-3zM1432,739h1v1h-1zM1498,739h2v1h-2zM1524,739h1v1h-1zM95,740h1v1h-1zM168,740h1v1h-1zM176,740h1v1h-1zM199,740h1v1h-1zM211,740h1v1h-1zM376,740h1v1h-1zM425,740h3v1h-3zM436,740h1v1h-1zM1143,740h4v1h-4zM1200,740h1v1h-1zM1204,740h1v1h-1zM1334,740h1v1h-1zM1368,740h5v1h-5zM1431,740h1v1h-1zM1524,740h1v1h-1zM96,741h2v1h-2zM127,741h5v1h-5zM167,741h1v1h-1zM177,741h3v1h-3zM197,741h2v1h-2zM212,741h1v1h-1zM375,741h1v1h-1zM437,741h1v1h-1zM1136,741h7v1h-7zM1147,741h1v1h-1zM1197,741h3v1h-3zM1205,741h3v1h-3zM1333,741h1v1h-1zM1373,741h3v1h-3zM1430,741h1v1h-1zM1525,741h1v1h-1zM98,742h1v1h-1zM122,742h5v1h-5zM132,742h2v1h-2zM166,742h1v1h-1zM180,742h1v1h-1zM195,742h2v1h-2zM212,742h1v1h-1zM374,742h1v1h-1zM438,742h1v1h-1zM1133,742h3v1h-3zM1147,742h1v1h-1zM1196,742h1v1h-1zM1208,742h1v1h-1zM1332,742h1v1h-1zM1376,742h4v1h-4zM1430,742h1v1h-1zM1526,742h1v1h-1zM99,743h1v1h-1zM120,743h2v1h-2zM134,743h3v1h-3zM166,743h1v1h-1zM181,743h3v1h-3zM192,743h3v1h-3zM213,743h1v1h-1zM362,743h2v1h-2zM374,743h1v1h-1zM439,743h1v1h-1zM911,743h4v1h-4zM1130,743h3v1h-3zM1148,743h1v1h-1zM1193,743h3v1h-3zM1209,743h2v1h-2zM1331,743h1v1h-1zM1380,743h2v1h-2zM1392,743h3v1h-3zM1430,743h1v1h-1zM1526,743h1v1h-1zM100,744h1v1h-1zM119,744h1v1h-1zM137,744h2v1h-2zM165,744h1v1h-1zM184,744h1v1h-1zM189,744h3v1h-3zM214,744h1v1h-1zM361,744h1v1h-1zM364,744h1v1h-1zM373,744h1v1h-1zM440,744h1v1h-1zM906,744h5v1h-5zM915,744h1v1h-1zM1129,744h1v1h-1zM1148,744h1v1h-1zM1190,744h3v1h-3zM1211,744h1v1h-1zM1329,744h2v1h-2zM1382,744h3v1h-3zM1389,744h3v1h-3zM1395,744h1v1h-1zM1429,744h1v1h-1zM1527,744h1v1h-1zM101,745h1v1h-1zM117,745h2v1h-2zM139,745h1v1h-1zM164,745h1v1h-1zM185,745h4v1h-4zM215,745h1v1h-1zM360,745h1v1h-1zM365,745h3v1h-3zM372,745h1v1h-1zM440,745h1v1h-1zM904,745h2v1h-2zM916,745h1v1h-1zM1079,745h5v1h-5zM1128,745h1v1h-1zM1149,745h1v1h-1zM1188,745h2v1h-2zM1212,745h2v1h-2zM1328,745h1v1h-1zM1385,745h4v1h-4zM1396,745h1v1h-1zM1428,745h1v1h-1zM1528,745h1v1h-1zM102,746h2v1h-2zM115,746h2v1h-2zM140,746h1v1h-1zM163,746h1v1h-1zM216,746h1v1h-1zM360,746h1v1h-1zM368,746h1v1h-1zM371,746h1v1h-1zM441,746h1v1h-1zM903,746h1v1h-1zM917,746h1v1h-1zM1072,746h7v1h-7zM1084,746h2v1h-2zM1096,746h5v1h-5zM1126,746h2v1h-2zM1149,746h1v1h-1zM1186,746h2v1h-2zM1214,746h1v1h-1zM1325,746h3v1h-3zM1396,746h1v1h-1zM1428,746h1v1h-1zM1528,746h1v1h-1zM1537,746h10v1h-10zM1626,746h2v1h-2zM104,747h1v1h-1zM112,747h3v1h-3zM141,747h1v1h-1zM163,747h1v1h-1zM216,747h1v1h-1zM346,747h1v1h-1zM359,747h1v1h-1zM369,747h2v1h-2zM442,747h1v1h-1zM901,747h2v1h-2zM918,747h2v1h-2zM1069,747h3v1h-3zM1086,747h3v1h-3zM1093,747h3v1h-3zM1101,747h3v1h-3zM1125,747h1v1h-1zM1150,747h1v1h-1zM1184,747h2v1h-2zM1215,747h2v1h-2zM1324,747h1v1h-1zM1397,747h1v1h-1zM1428,747h1v1h-1zM1529,747h1v1h-1zM1534,747h3v1h-3zM1547,747h1v1h-1zM1625,747h1v1h-1zM1628,747h1v1h-1zM105,748h1v1h-1zM109,748h3v1h-3zM142,748h2v1h-2zM160,748h3v1h-3zM217,748h1v1h-1zM313,748h3v1h-3zM344,748h2v1h-2zM347,748h1v1h-1zM358,748h1v1h-1zM443,748h1v1h-1zM899,748h2v1h-2zM920,748h1v1h-1zM1066,748h3v1h-3zM1089,748h4v1h-4zM1104,748h5v1h-5zM1124,748h1v1h-1zM1150,748h1v1h-1zM1183,748h1v1h-1zM1217,748h1v1h-1zM1322,748h2v1h-2zM1398,748h1v1h-1zM1427,748h1v1h-1zM1529,748h1v1h-1zM1532,748h2v1h-2zM1548,748h1v1h-1zM1625,748h1v1h-1zM1629,748h3v1h-3zM106,749h3v1h-3zM144,749h1v1h-1zM157,749h3v1h-3zM218,749h2v1h-2zM310,749h3v1h-3zM316,749h1v1h-1zM343,749h1v1h-1zM348,749h2v1h-2zM357,749h1v1h-1zM444,749h1v1h-1zM898,749h1v1h-1zM921,749h1v1h-1zM927,749h4v1h-4zM1065,749h1v1h-1zM1109,749h3v1h-3zM1123,749h1v1h-1zM1151,749h1v1h-1zM1181,749h2v1h-2zM1218,749h1v1h-1zM1321,749h1v1h-1zM1399,749h1v1h-1zM1426,749h1v1h-1zM1530,749h2v1h-2zM1548,749h1v1h-1zM1562,749h5v1h-5zM1624,749h1v1h-1zM1632,749h1v1h-1zM145,750h1v1h-1zM151,750h6v1h-6zM220,750h2v1h-2zM308,750h2v1h-2zM317,750h3v1h-3zM341,750h2v1h-2zM350,750h1v1h-1zM356,750h1v1h-1zM444,750h1v1h-1zM896,750h2v1h-2zM922,750h5v1h-5zM931,750h1v1h-1zM1065,750h1v1h-1zM1112,750h11v1h-11zM1151,750h1v1h-1zM1179,750h2v1h-2zM1219,750h1v1h-1zM1321,750h1v1h-1zM1400,750h1v1h-1zM1425,750h2v1h-2zM1549,750h1v1h-1zM1561,750h1v1h-1zM1567,750h4v1h-4zM1623,750h1v1h-1zM1633,750h2v1h-2zM146,751h5v1h-5zM222,751h3v1h-3zM304,751h4v1h-4zM320,751h1v1h-1zM339,751h2v1h-2zM351,751h2v1h-2zM356,751h1v1h-1zM445,751h1v1h-1zM895,751h1v1h-1zM932,751h1v1h-1zM952,751h11v1h-11zM1064,751h1v1h-1zM1152,751h1v1h-1zM1175,751h4v1h-4zM1219,751h1v1h-1zM1320,751h1v1h-1zM1400,751h1v1h-1zM1422,751h3v1h-3zM1550,751h1v1h-1zM1560,751h1v1h-1zM1571,751h1v1h-1zM1586,751h1v1h-1zM1622,751h1v1h-1zM1635,751h1v1h-1zM225,752h6v1h-6zM239,752h4v1h-4zM301,752h3v1h-3zM321,752h2v1h-2zM338,752h1v1h-1zM353,752h1v1h-1zM355,752h1v1h-1zM446,752h1v1h-1zM858,752h3v1h-3zM893,752h2v1h-2zM933,752h1v1h-1zM949,752h3v1h-3zM963,752h1v1h-1zM1064,752h1v1h-1zM1152,752h1v1h-1zM1169,752h6v1h-6zM1220,752h1v1h-1zM1320,752h1v1h-1zM1401,752h1v1h-1zM1420,752h2v1h-2zM1551,752h1v1h-1zM1558,752h2v1h-2zM1572,752h1v1h-1zM1585,752h1v1h-1zM1587,752h1v1h-1zM1622,752h1v1h-1zM1636,752h1v1h-1zM231,753h8v1h-8zM243,753h1v1h-1zM298,753h3v1h-3zM323,753h1v1h-1zM337,753h1v1h-1zM354,753h1v1h-1zM447,753h1v1h-1zM857,753h1v1h-1zM861,753h3v1h-3zM891,753h2v1h-2zM934,753h2v1h-2zM945,753h4v1h-4zM964,753h1v1h-1zM1063,753h1v1h-1zM1153,753h1v1h-1zM1168,753h1v1h-1zM1221,753h1v1h-1zM1319,753h1v1h-1zM1402,753h3v1h-3zM1416,753h4v1h-4zM1552,753h1v1h-1zM1557,753h1v1h-1zM1573,753h1v1h-1zM1583,753h2v1h-2zM1588,753h1v1h-1zM1621,753h1v1h-1zM1637,753h1v1h-1zM243,754h1v1h-1zM297,754h1v1h-1zM324,754h2v1h-2zM335,754h2v1h-2zM448,754h1v1h-1zM856,754h1v1h-1zM864,754h3v1h-3zM889,754h2v1h-2zM936,754h1v1h-1zM942,754h3v1h-3zM964,754h1v1h-1zM1063,754h1v1h-1zM1153,754h1v1h-1zM1165,754h3v1h-3zM1222,754h1v1h-1zM1298,754h1v1h-1zM1319,754h1v1h-1zM1405,754h3v1h-3zM1413,754h3v1h-3zM1552,754h1v1h-1zM1556,754h1v1h-1zM1574,754h2v1h-2zM1582,754h1v1h-1zM1589,754h1v1h-1zM1620,754h1v1h-1zM1638,754h2v1h-2zM244,755h1v1h-1zM295,755h2v1h-2zM326,755h1v1h-1zM334,755h1v1h-1zM448,755h1v1h-1zM456,755h4v1h-4zM841,755h3v1h-3zM854,755h2v1h-2zM867,755h1v1h-1zM886,755h3v1h-3zM937,755h1v1h-1zM940,755h2v1h-2zM965,755h1v1h-1zM1062,755h1v1h-1zM1154,755h5v1h-5zM1164,755h1v1h-1zM1222,755h1v1h-1zM1297,755h1v1h-1zM1299,755h1v1h-1zM1318,755h1v1h-1zM1408,755h5v1h-5zM1553,755h1v1h-1zM1555,755h1v1h-1zM1576,755h1v1h-1zM1580,755h2v1h-2zM1590,755h1v1h-1zM1619,755h1v1h-1zM1640,755h1v1h-1zM244,756h1v1h-1zM294,756h1v1h-1zM327,756h2v1h-2zM332,756h2v1h-2zM449,756h1v1h-1zM453,756h3v1h-3zM460,756h2v1h-2zM838,756h3v1h-3zM844,756h1v1h-1zM853,756h1v1h-1zM868,756h1v1h-1zM884,756h2v1h-2zM938,756h2v1h-2zM966,756h1v1h-1zM1062,756h1v1h-1zM1159,756h5v1h-5zM1223,756h1v1h-1zM1240,756h3v1h-3zM1296,756h1v1h-1zM1300,756h1v1h-1zM1317,756h1v1h-1zM1554,756h1v1h-1zM1577,756h1v1h-1zM1579,756h1v1h-1zM1591,756h1v1h-1zM1619,756h1v1h-1zM1641,756h1v1h-1zM245,757h1v1h-1zM292,757h2v1h-2zM329,757h1v1h-1zM331,757h1v1h-1zM450,757h3v1h-3zM462,757h3v1h-3zM836,757h2v1h-2zM845,757h3v1h-3zM852,757h1v1h-1zM869,757h1v1h-1zM881,757h3v1h-3zM967,757h1v1h-1zM1061,757h1v1h-1zM1224,757h1v1h-1zM1237,757h3v1h-3zM1243,757h1v1h-1zM1295,757h1v1h-1zM1301,757h1v1h-1zM1317,757h1v1h-1zM1578,757h1v1h-1zM1592,757h1v1h-1zM1607,757h12v1h-12zM1642,757h2v1h-2zM245,758h1v1h-1zM291,758h1v1h-1zM330,758h1v1h-1zM465,758h2v1h-2zM826,758h10v1h-10zM848,758h1v1h-1zM851,758h1v1h-1zM870,758h2v1h-2zM880,758h1v1h-1zM968,758h1v1h-1zM1061,758h1v1h-1zM1225,758h1v1h-1zM1232,758h5v1h-5zM1243,758h1v1h-1zM1294,758h1v1h-1zM1302,758h1v1h-1zM1316,758h1v1h-1zM1593,758h1v1h-1zM1599,758h8v1h-8zM1644,758h2v1h-2zM246,759h1v1h-1zM290,759h1v1h-1zM467,759h1v1h-1zM825,759h1v1h-1zM849,759h2v1h-2zM872,759h1v1h-1zM877,759h3v1h-3zM968,759h1v1h-1zM1060,759h1v1h-1zM1225,759h1v1h-1zM1229,759h3v1h-3zM1244,759h1v1h-1zM1282,759h2v1h-2zM1293,759h1v1h-1zM1303,759h1v1h-1zM1316,759h1v1h-1zM1594,759h5v1h-5zM1646,759h3v1h-3zM247,760h1v1h-1zM288,760h2v1h-2zM468,760h1v1h-1zM560,760h3v1h-3zM825,760h1v1h-1zM873,760h1v1h-1zM876,760h1v1h-1zM969,760h1v1h-1zM1060,760h1v1h-1zM1226,760h3v1h-3zM1245,760h1v1h-1zM1281,760h1v1h-1zM1284,760h2v1h-2zM1292,760h1v1h-1zM1304,760h1v1h-1zM1315,760h1v1h-1zM1649,760h2v1h-2zM247,761h1v1h-1zM287,761h1v1h-1zM469,761h1v1h-1zM490,761h2v1h-2zM557,761h3v1h-3zM563,761h1v1h-1zM824,761h1v1h-1zM874,761h2v1h-2zM970,761h9v1h-9zM1059,761h1v1h-1zM1246,761h1v1h-1zM1280,761h1v1h-1zM1286,761h3v1h-3zM1291,761h1v1h-1zM1305,761h1v1h-1zM1315,761h1v1h-1zM1651,761h1v1h-1zM248,762h1v1h-1zM285,762h2v1h-2zM470,762h1v1h-1zM489,762h1v1h-1zM492,762h2v1h-2zM554,762h3v1h-3zM563,762h1v1h-1zM824,762h1v1h-1zM979,762h1v1h-1zM1059,762h1v1h-1zM1246,762h1v1h-1zM1279,762h1v1h-1zM1289,762h2v1h-2zM1306,762h9v1h-9zM1652,762h1v1h-1zM248,763h1v1h-1zM283,763h2v1h-2zM471,763h1v1h-1zM488,763h1v1h-1zM494,763h3v1h-3zM553,763h1v1h-1zM564,763h1v1h-1zM823,763h1v1h-1zM980,763h1v1h-1zM1025,763h2v1h-2zM1057,763h2v1h-2zM1247,763h1v1h-1zM1278,763h1v1h-1zM1653,763h1v1h-1zM249,764h1v1h-1zM264,764h3v1h-3zM282,764h1v1h-1zM472,764h1v1h-1zM487,764h1v1h-1zM497,764h2v1h-2zM552,764h1v1h-1zM565,764h1v1h-1zM823,764h1v1h-1zM981,764h1v1h-1zM1024,764h1v1h-1zM1027,764h1v1h-1zM1054,764h3v1h-3zM1248,764h1v1h-1zM1278,764h1v1h-1zM1654,764h1v1h-1zM249,765h1v1h-1zM261,765h3v1h-3zM267,765h2v1h-2zM280,765h2v1h-2zM473,765h1v1h-1zM486,765h1v1h-1zM499,765h1v1h-1zM551,765h1v1h-1zM566,765h1v1h-1zM672,765h3v1h-3zM727,765h8v1h-8zM822,765h1v1h-1zM982,765h2v1h-2zM1001,765h3v1h-3zM1021,765h3v1h-3zM1027,765h1v1h-1zM1052,765h2v1h-2zM1249,765h1v1h-1zM1264,765h4v1h-4zM1277,765h1v1h-1zM1654,765h1v1h-1zM250,766h11v1h-11zM269,766h2v1h-2zM279,766h1v1h-1zM474,766h2v1h-2zM486,766h1v1h-1zM500,766h1v1h-1zM529,766h3v1h-3zM550,766h1v1h-1zM566,766h1v1h-1zM656,766h7v1h-7zM669,766h3v1h-3zM675,766h1v1h-1zM720,766h7v1h-7zM735,766h4v1h-4zM821,766h1v1h-1zM984,766h1v1h-1zM1000,766h1v1h-1zM1004,766h2v1h-2zM1020,766h1v1h-1zM1028,766h1v1h-1zM1042,766h10v1h-10zM1249,766h1v1h-1zM1261,766h3v1h-3zM1268,766h2v1h-2zM1276,766h1v1h-1zM1655,766h1v1h-1zM271,767h1v1h-1zM277,767h2v1h-2zM476,767h1v1h-1zM485,767h1v1h-1zM501,767h1v1h-1zM526,767h3v1h-3zM532,767h1v1h-1zM550,767h1v1h-1zM567,767h1v1h-1zM653,767h3v1h-3zM663,767h6v1h-6zM676,767h2v1h-2zM717,767h3v1h-3zM739,767h1v1h-1zM821,767h1v1h-1zM985,767h1v1h-1zM997,767h3v1h-3zM1006,767h3v1h-3zM1015,767h5v1h-5zM1028,767h1v1h-1zM1041,767h1v1h-1zM1250,767h11v1h-11zM1270,767h3v1h-3zM1275,767h1v1h-1zM1656,767h1v1h-1zM272,768h2v1h-2zM275,768h2v1h-2zM477,768h3v1h-3zM484,768h1v1h-1zM502,768h1v1h-1zM524,768h2v1h-2zM533,768h3v1h-3zM549,768h1v1h-1zM568,768h1v1h-1zM650,768h3v1h-3zM678,768h1v1h-1zM711,768h6v1h-6zM740,768h1v1h-1zM768,768h3v1h-3zM786,768h2v1h-2zM820,768h1v1h-1zM986,768h5v1h-5zM996,768h1v1h-1zM1009,768h6v1h-6zM1029,768h1v1h-1zM1040,768h1v1h-1zM1273,768h2v1h-2zM1657,768h1v1h-1zM1663,768h4v1h-4zM274,769h1v1h-1zM480,769h1v1h-1zM483,769h1v1h-1zM503,769h1v1h-1zM522,769h2v1h-2zM536,769h1v1h-1zM548,769h1v1h-1zM569,769h1v1h-1zM649,769h1v1h-1zM679,769h2v1h-2zM703,769h8v1h-8zM741,769h1v1h-1zM765,769h3v1h-3zM771,769h1v1h-1zM785,769h1v1h-1zM788,769h1v1h-1zM820,769h1v1h-1zM991,769h5v1h-5zM1030,769h1v1h-1zM1040,769h1v1h-1zM1658,769h5v1h-5zM481,770h2v1h-2zM504,770h1v1h-1zM520,770h2v1h-2zM537,770h6v1h-6zM547,770h1v1h-1zM569,770h1v1h-1zM593,770h2v1h-2zM649,770h1v1h-1zM681,770h1v1h-1zM696,770h7v1h-7zM742,770h1v1h-1zM762,770h3v1h-3zM772,770h2v1h-2zM783,770h2v1h-2zM789,770h3v1h-3zM819,770h1v1h-1zM1030,770h1v1h-1zM1039,770h1v1h-1zM505,771h1v1h-1zM519,771h1v1h-1zM543,771h4v1h-4zM570,771h11v1h-11zM590,771h3v1h-3zM595,771h1v1h-1zM648,771h1v1h-1zM682,771h5v1h-5zM693,771h3v1h-3zM742,771h1v1h-1zM761,771h1v1h-1zM774,771h1v1h-1zM782,771h1v1h-1zM792,771h1v1h-1zM819,771h1v1h-1zM1031,771h1v1h-1zM1038,771h1v1h-1zM506,772h3v1h-3zM517,772h2v1h-2zM581,772h3v1h-3zM588,772h2v1h-2zM596,772h1v1h-1zM647,772h1v1h-1zM687,772h6v1h-6zM743,772h1v1h-1zM760,772h1v1h-1zM775,772h2v1h-2zM780,772h2v1h-2zM793,772h6v1h-6zM816,772h3v1h-3zM1032,772h1v1h-1zM1037,772h1v1h-1zM509,773h3v1h-3zM515,773h2v1h-2zM584,773h4v1h-4zM597,773h1v1h-1zM646,773h1v1h-1zM744,773h1v1h-1zM758,773h2v1h-2zM777,773h1v1h-1zM779,773h1v1h-1zM799,773h8v1h-8zM813,773h3v1h-3zM1032,773h1v1h-1zM1036,773h1v1h-1zM512,774h3v1h-3zM598,774h1v1h-1zM646,774h1v1h-1zM745,774h1v1h-1zM757,774h1v1h-1zM778,774h1v1h-1zM807,774h6v1h-6zM1033,774h1v1h-1zM1036,774h1v1h-1zM598,775h1v1h-1zM645,775h1v1h-1zM746,775h3v1h-3zM756,775h1v1h-1zM1033,775h1v1h-1zM1035,775h1v1h-1zM599,776h1v1h-1zM644,776h1v1h-1zM749,776h3v1h-3zM755,776h1v1h-1zM1034,776h1v1h-1zM600,777h1v1h-1zM634,777h3v1h-3zM643,777h1v1h-1zM752,777h3v1h-3zM601,778h1v1h-1zM617,778h2v1h-2zM633,778h1v1h-1zM637,778h3v1h-3zM643,778h1v1h-1zM602,779h2v1h-2zM616,779h1v1h-1zM619,779h1v1h-1zM632,779h1v1h-1zM640,779h3v1h-3zM604,780h2v1h-2zM613,780h3v1h-3zM620,780h2v1h-2zM630,780h2v1h-2zM606,781h3v1h-3zM612,781h1v1h-1zM622,781h1v1h-1zM629,781h1v1h-1zM609,782h3v1h-3zM623,782h2v1h-2zM628,782h1v1h-1zM625,783h1v1h-1zM627,783h1v1h-1zM626,784h1v1h-1z" fill="#1e90ff" shape-rendering="crispEdges"/>
<text transform="translate(1693,35.6) scale(0.91,1)" font-size="10" fill="#000" text-anchor="start" font-weight="normal">5906.0</text>
<text transform="translate(1693,68.6) scale(0.91,1)" font-size="10" fill="#000" text-anchor="start" font-weight="normal">5838.0</text>
<text transform="translate(1693,101.6) scale(0.91,1)" font-size="10" fill="#000" text-anchor="start" font-weight="normal">5772.0</text>
<text transform="translate(1693,134.6) scale(0.91,1)" font-size="10" fill="#000" text-anchor="start" font-weight="normal">5704.0</text>
<text transform="translate(1693,167.6) scale(0.91,1)" font-size="10" fill="#000" text-anchor="start" font-weight="normal">5638.0</text>
<text transform="translate(1693,200.6) scale(0.91,1)" font-size="10" fill="#000" text-anchor="start" font-weight="normal">5570.0</text>
<text transform="translate(1693,233.6) scale(0.91,1)" font-size="10" fill="#000" text-anchor="start" font-weight="normal">5504.0</text>
<text transform="translate(1693,266.6) scale(0.91,1)" font-size="10" fill="#000" text-anchor="start" font-weight="normal">5436.0</text>
<text transform="translate(1693,299.6) scale(0.91,1)" font-size="10" fill="#000" text-anchor="start" font-weight="normal">5370.0</text>
<text transform="translate(1693,332.6) scale(0.91,1)" font-size="10" fill="#000" text-anchor="start" font-weight="normal">5302.0</text>
<text transform="translate(1693,365.6) scale(0.91,1)" font-size="10" fill="#000" text-anchor="start" font-weight="normal">5236.0</text>
<text transform="translate(1693,398.6) scale(0.91,1)" font-size="10" fill="#000" text-anchor="start" font-weight="normal">5168.0</text>
<text transform="translate(1693,431.6) scale(0.91,1)" font-size="10" fill="#000" text-anchor="start" font-weight="normal">5102.0</text>
<text transform="translate(1693,464.6) scale(0.91,1)" font-size="10" fill="#000" text-anchor="start" font-weight="normal">5034.0</text>
<text transform="translate(1693,497.6) scale(0.91,1)" font-size="10" fill="#000" text-anchor="start" font-weight="normal">4968.0</text>
<text transform="translate(1693,530.6) scale(0.91,1)" font-size="10" fill="#000" text-anchor="start" font-weight="normal">4900.0</text>
<text transform="translate(1693,563.6) scale(0.91,1)" font-size="10" fill="#000" text-anchor="start" font-weight="normal">4834.0</text>
<rect x="1689" y="184" width="33" height="11" fill="#ff0000"/>
<text transform="translate(1693,192.6) scale(0.91,1)" font-size="10" fill="#fff" text-anchor="start" font-weight="normal">5585.0</text>
<rect x="1689" y="302" width="33" height="11" fill="#ff0000"/>
<text transform="translate(1693,310.6) scale(0.91,1)" font-size="10" fill="#fff" text-anchor="start" font-weight="normal">5345.0</text>
<rect x="1689" y="397" width="33" height="11" fill="#000000"/>
<text transform="translate(1693,405.6) scale(0.91,1)" font-size="10" fill="#fff" text-anchor="start" font-weight="normal">5154.8</text>
<rect x="1689" y="393" width="33" height="11" fill="#32cd32"/>
<text transform="translate(1693,401.6) scale(0.91,1)" font-size="10" fill="#fff" text-anchor="start" font-weight="normal">5160.0</text>
<rect x="1689" y="499" width="33" height="11" fill="#4169e1"/>
<text transform="translate(1693,507.6) scale(0.91,1)" font-size="10" fill="#fff" text-anchor="start" font-weight="normal">4945.0</text>
<text transform="translate(1692,576) scale(0.93,1)" font-size="10" fill="#000" text-anchor="start" font-weight="normal">139.86</text>
<text transform="translate(1692,631) scale(0.93,1)" font-size="10" fill="#000" text-anchor="start" font-weight="normal">0.00</text>
<text transform="translate(1690,688) scale(0.93,1)" font-size="10" fill="#000" text-anchor="start" font-weight="normal">-143.82</text>
<text transform="translate(1692,703) scale(0.93,1)" font-size="10" fill="#000" text-anchor="start" font-weight="normal">100</text>
<text transform="translate(1692,734) scale(0.93,1)" font-size="10" fill="#000" text-anchor="start" font-weight="normal">70</text>
<text transform="translate(1692,784) scale(0.93,1)" font-size="10" fill="#000" text-anchor="start" font-weight="normal">30</text>
<text transform="translate(1692,814) scale(0.93,1)" font-size="10" fill="#000" text-anchor="start" font-weight="normal">0</text>
<text transform="translate(1,831) scale(0.95,1)" font-size="10" fill="#000" text-anchor="start" font-weight="normal">6 Jan 2021</text>
<text transform="translate(65,831) scale(0.95,1)" font-size="10" fill="#000" text-anchor="start" font-weight="normal">12 Jan 05:00</text>
<text transform="translate(129,831) scale(0.95,1)" font-size="10" fill="#000" text-anchor="start" font-weight="normal">18 Jan 05:00</text>
<text transform="translate(193,831) scale(0.95,1)" font-size="10" fill="#000" text-anchor="start" font-weight="normal">22 Jan 05:00</text>
<text transform="translate(257,831) scale(0.95,1)" font-size="10" fill="#000" text-anchor="start" font-weight="normal">28 Jan 05:00</text>
<text transform="translate(321,831) scale(0.95,1)" font-size="10" fill="#000" text-anchor="start" font-weight="normal">3 Feb 05:00</text>
<text transform="translate(385,831) scale(0.95,1)" font-size="10" fill="#000" text-anchor="start" font-weight="normal">9 Feb 05:00</text>
<text transform="translate(449,831) scale(0.95,1)" font-size="10" fill="#000" text-anchor="start" font-weight="normal">22 Feb 05:00</text>
<text transform="translate(513,831) scale(0.95,1)" font-size="10" fill="#000" text-anchor="start" font-weight="normal">26 Feb 05:00</text>
<text transform="translate(577,831) scale(0.95,1)" font-size="10" fill="#000" text-anchor="start" font-weight="normal">4 Mar 05:00</text>
<text transform="translate(641,831) scale(0.95,1)" font-size="10" fill="#000" text-anchor="start" font-weight="normal">10 Mar 05:00</text>
<text transform="translate(705,831) scale(0.95,1)" font-size="10" fill="#000" text-anchor="start" font-weight="normal">16 Mar 05:00</text>
<text transform="translate(769,831) scale(0.95,1)" font-size="10" fill="#000" text-anchor="start" font-weight="normal">22 Mar 05:00</text>
<text transform="translate(833,831) scale(0.95,1)" font-size="10" fill="#000" text-anchor="start" font-weight="normal">26 Mar 05:00</text>
<text transform="translate(897,831) scale(0.95,1)" font-size="10" fill="#000" text-anchor="start" font-weight="normal">1 Apr 05:00</text>
<text transform="translate(961,831) scale(0.95,1)" font-size="10" fill="#000" text-anchor="start" font-weight="normal">8 Apr 05:00</text>
<text transform="translate(1025,831) scale(0.95,1)" font-size="10" fill="#000" text-anchor="start" font-weight="normal">14 Apr 05:00</text>
<text transform="translate(1089,831) scale(0.95,1)" font-size="10" fill="#000" text-anchor="start" font-weight="normal">20 Apr 05:00</text>
<text transform="translate(1153,831) scale(0.95,1)" font-size="10" fill="#000" text-anchor="start" font-weight="normal">26 Apr 05:00</text>
<text transform="translate(1217,831) scale(0.95,1)" font-size="10" fill="#000" text-anchor="start" font-weight="normal">30 Apr 05:00</text>
<text transform="translate(1281,831) scale(0.95,1)" font-size="10" fill="#000" text-anchor="start" font-weight="normal">11 May 05:00</text>
<text transform="translate(1345,831) scale(0.95,1)" font-size="10" fill="#000" text-anchor="start" font-weight="normal">17 May 05:00</text>
<text transform="translate(1409,831) scale(0.95,1)" font-size="10" fill="#000" text-anchor="start" font-weight="normal">21 May 05:00</text>
<text transform="translate(1473,831) scale(0.95,1)" font-size="10" fill="#000" text-anchor="start" font-weight="normal">27 May 05:00</text>
<text transform="translate(1537,831) scale(0.95,1)" font-size="10" fill="#000" text-anchor="start" font-weight="normal">2 Jun 05:00</text>
<text transform="translate(1601,831) scale(0.95,1)" font-size="10" fill="#000" text-anchor="start" font-weight="normal">8 Jun 05:00</text>
<text transform="translate(1665,831) scale(0.95,1)" font-size="10" fill="#000" text-anchor="start" font-weight="normal">15 Jun 05:00</text>
<path d="M5,8 L12,8 L8.5,12 Z" fill="#000"/>
<text transform="translate(17,13) scale(0.969,1)" font-size="10" fill="#000" text-anchor="start" font-weight="normal">CHINA300-,H4</text>
<text transform="translate(88,13) scale(0.93,1)" font-size="10" fill="#000" text-anchor="start" font-weight="normal">5148.6 5168.4 5147.0 5154.8</text>
<text transform="translate(6,578) scale(0.949,1)" font-size="10" fill="#000" text-anchor="start" font-weight="normal">MACD(12,26,9) -9.41 5.56</text>
<text transform="translate(6,705) scale(0.93,1)" font-size="10" fill="#000" text-anchor="start" font-weight="normal">RSI(14) 39.5063</text>
<g fill="none" stroke="#e8141c" stroke-width="2.7" stroke-linecap="butt" stroke-linejoin="miter"><path d="M917.0,226.4 L902.0,236.9"/><path d="M908.1,230.7 L930.8,230.7"/><path d="M930.8,230.7 Q921.8,239.2 900.8,245.2"/><path d="M911.0,235.7 L915.8,239.2"/><path d="M922.5,240.4 L903.3,252.3"/><path d="M914.2,244.6 L932.7,244.6"/><path d="M932.7,244.6 Q923.8,255.8 901.7,259.9"/><path d="M914.8,250.7 L918.0,253.2"/><path d="M952.2,226.4 L954.1,229.6"/><path d="M938.5,237.6 L938.5,231.8 L967.8,231.8 L967.8,237.3"/><path d="M949.3,236.3 L936.5,244.9"/><path d="M956.7,236.0 L969.1,244.9"/><path d="M941.0,246.2 L965.3,246.2"/><path d="M953.8,246.2 L953.8,257.7"/><path d="M937.2,257.8 L969.1,257.8"/><path d="M972.3,232.9 L986.3,232.9"/><path d="M979.6,226.6 L973.4,244.4 L986.3,244.4"/><path d="M980.9,236.4 L980.9,260.8"/><path d="M972.0,252.8 L986.6,250.7"/><path d="M988.3,232.9 L1005.1,232.9"/><path d="M987.3,239.9 L1006.1,239.9"/><path d="M996.0,226.6 L990.4,247.2 L1003.7,247.2 L996.7,255.2"/><path d="M989.4,251.7 L1001.2,260.1"/><path d="M1008.2,234.6 L1019.7,234.6"/><path d="M1014.1,226.6 L1014.1,259.0 L1008.6,259.0"/><path d="M1007.9,246.8 L1019.0,242.6"/><path d="M1041.0,228.7 L1023.9,229.8"/><path d="M1023.9,229.8 Q1023.9,249.3 1018.7,260.1"/><path d="M1023.9,240.6 L1042.0,240.6"/><path d="M1034.7,240.6 L1034.7,260.8"/><path d="M1060.8,225.9 L1060.8,238.5"/><path d="M1060.8,231.1 L1077.5,231.1"/><path d="M1049.3,250.7 L1049.3,238.5 L1072.7,238.5 L1072.7,250.0"/><path d="M1049.3,248.9 L1072.7,248.9"/><path d="M1049.7,252.4 L1045.1,259.4"/><path d="M1055.6,252.4 L1057.7,259.0"/><path d="M1064.7,252.1 L1066.7,259.0"/><path d="M1073.7,252.1 L1076.8,259.4"/></g><text transform="translate(1080.5,256.8) scale(1,1.03)" font-size="39" fill="#e8141c" font-family="Liberation Sans, sans-serif">5</text><text transform="translate(1121.5,256.8) scale(1,1.03)" font-size="39" fill="#e8141c" font-family="Liberation Sans, sans-serif">6</text><text transform="translate(1142.2,256.8) scale(1,1.03)" font-size="39" fill="#e8141c" font-family="Liberation Sans, sans-serif">0</text><path d="M1110,228.3 L1114,228.3 L1114,256.3 L1110,256.3 L1110,234.5 L1104,238.2 L1103.4,234.3 L1110,228.3 Z" fill="#e8141c"/>
</svg></body></html>
